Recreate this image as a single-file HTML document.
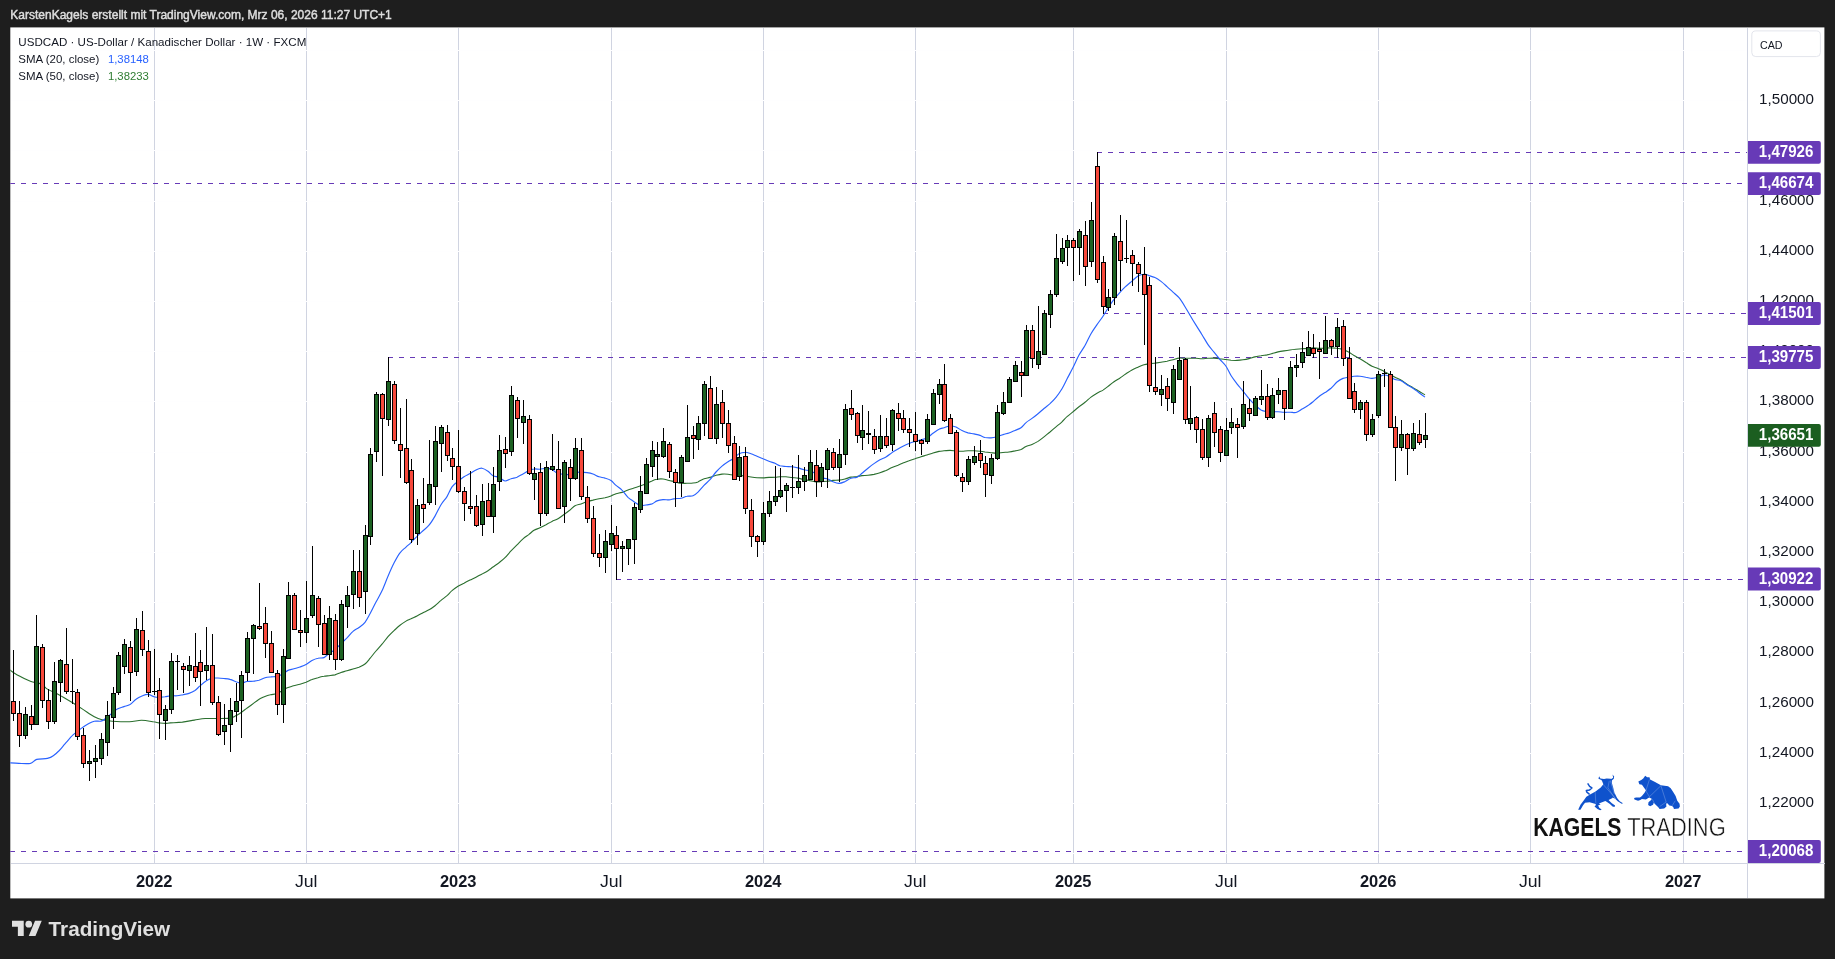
<!DOCTYPE html>
<html><head><meta charset="utf-8"><title>USDCAD</title>
<style>html,body{margin:0;padding:0;background:#1e1e1e;overflow:hidden}svg{display:block;will-change:transform}</style>
</head><body>
<svg width="1835" height="959" viewBox="0 0 1835 959" style="font-family:&quot;Liberation Sans&quot;,sans-serif">
<rect x="0" y="0" width="1835" height="959" fill="#1e1e1e"/>
<rect x="10.3" y="27.4" width="1814.1000000000001" height="871.0" fill="#ffffff"/>
<defs><clipPath id="pane"><rect x="10.3" y="27.4" width="1736.7" height="835.6"/></clipPath></defs>
<g shape-rendering="crispEdges">
<rect x="154" y="28" width="1" height="835" fill="#d0d4e1"/>
<rect x="306" y="28" width="1" height="835" fill="#d0d4e1"/>
<rect x="458" y="28" width="1" height="835" fill="#d0d4e1"/>
<rect x="611" y="28" width="1" height="835" fill="#d0d4e1"/>
<rect x="763" y="28" width="1" height="835" fill="#d0d4e1"/>
<rect x="915" y="28" width="1" height="835" fill="#d0d4e1"/>
<rect x="1073" y="28" width="1" height="835" fill="#d0d4e1"/>
<rect x="1226" y="28" width="1" height="835" fill="#d0d4e1"/>
<rect x="1378" y="28" width="1" height="835" fill="#d0d4e1"/>
<rect x="1530" y="28" width="1" height="835" fill="#d0d4e1"/>
<rect x="1683" y="28" width="1" height="835" fill="#d0d4e1"/>
<rect x="11" y="853" width="1736" height="1" fill="#fefeff"/>
<rect x="11" y="803" width="1736" height="1" fill="#fefeff"/>
<rect x="11" y="753" width="1736" height="1" fill="#fefeff"/>
<rect x="11" y="703" width="1736" height="1" fill="#fefeff"/>
<rect x="11" y="652" width="1736" height="1" fill="#fefeff"/>
<rect x="11" y="602" width="1736" height="1" fill="#fefeff"/>
<rect x="11" y="552" width="1736" height="1" fill="#fefeff"/>
<rect x="11" y="502" width="1736" height="1" fill="#fefeff"/>
<rect x="11" y="452" width="1736" height="1" fill="#fefeff"/>
<rect x="11" y="401" width="1736" height="1" fill="#fefeff"/>
<rect x="11" y="351" width="1736" height="1" fill="#fefeff"/>
<rect x="11" y="301" width="1736" height="1" fill="#fefeff"/>
<rect x="11" y="251" width="1736" height="1" fill="#fefeff"/>
<rect x="11" y="201" width="1736" height="1" fill="#fefeff"/>
<rect x="11" y="150" width="1736" height="1" fill="#fefeff"/>
<rect x="11" y="100" width="1736" height="1" fill="#fefeff"/>
<rect x="11" y="50" width="1736" height="1" fill="#fefeff"/>
<rect x="1747" y="28" width="1" height="870" fill="#d0d4e1"/>
<rect x="11" y="863" width="1814" height="1" fill="#d0d4e1"/>
</g>
<g shape-rendering="crispEdges" clip-path="url(#pane)">
<rect x="1097" y="152" width="5" height="1" fill="#673ab7"/><rect x="1108" y="152" width="5" height="1" fill="#673ab7"/><rect x="1119" y="152" width="5" height="1" fill="#673ab7"/><rect x="1130" y="152" width="5" height="1" fill="#673ab7"/><rect x="1141" y="152" width="5" height="1" fill="#673ab7"/><rect x="1152" y="152" width="5" height="1" fill="#673ab7"/><rect x="1163" y="152" width="5" height="1" fill="#673ab7"/><rect x="1174" y="152" width="5" height="1" fill="#673ab7"/><rect x="1185" y="152" width="5" height="1" fill="#673ab7"/><rect x="1196" y="152" width="5" height="1" fill="#673ab7"/><rect x="1207" y="152" width="5" height="1" fill="#673ab7"/><rect x="1218" y="152" width="5" height="1" fill="#673ab7"/><rect x="1229" y="152" width="5" height="1" fill="#673ab7"/><rect x="1240" y="152" width="5" height="1" fill="#673ab7"/><rect x="1251" y="152" width="5" height="1" fill="#673ab7"/><rect x="1262" y="152" width="5" height="1" fill="#673ab7"/><rect x="1273" y="152" width="5" height="1" fill="#673ab7"/><rect x="1284" y="152" width="5" height="1" fill="#673ab7"/><rect x="1295" y="152" width="5" height="1" fill="#673ab7"/><rect x="1306" y="152" width="5" height="1" fill="#673ab7"/><rect x="1317" y="152" width="5" height="1" fill="#673ab7"/><rect x="1328" y="152" width="5" height="1" fill="#673ab7"/><rect x="1339" y="152" width="5" height="1" fill="#673ab7"/><rect x="1350" y="152" width="5" height="1" fill="#673ab7"/><rect x="1361" y="152" width="5" height="1" fill="#673ab7"/><rect x="1372" y="152" width="5" height="1" fill="#673ab7"/><rect x="1383" y="152" width="5" height="1" fill="#673ab7"/><rect x="1394" y="152" width="5" height="1" fill="#673ab7"/><rect x="1405" y="152" width="5" height="1" fill="#673ab7"/><rect x="1416" y="152" width="5" height="1" fill="#673ab7"/><rect x="1427" y="152" width="5" height="1" fill="#673ab7"/><rect x="1438" y="152" width="5" height="1" fill="#673ab7"/><rect x="1449" y="152" width="5" height="1" fill="#673ab7"/><rect x="1460" y="152" width="5" height="1" fill="#673ab7"/><rect x="1471" y="152" width="5" height="1" fill="#673ab7"/><rect x="1482" y="152" width="5" height="1" fill="#673ab7"/><rect x="1493" y="152" width="5" height="1" fill="#673ab7"/><rect x="1504" y="152" width="5" height="1" fill="#673ab7"/><rect x="1515" y="152" width="5" height="1" fill="#673ab7"/><rect x="1526" y="152" width="5" height="1" fill="#673ab7"/><rect x="1537" y="152" width="5" height="1" fill="#673ab7"/><rect x="1548" y="152" width="5" height="1" fill="#673ab7"/><rect x="1559" y="152" width="5" height="1" fill="#673ab7"/><rect x="1570" y="152" width="5" height="1" fill="#673ab7"/><rect x="1581" y="152" width="5" height="1" fill="#673ab7"/><rect x="1592" y="152" width="5" height="1" fill="#673ab7"/><rect x="1603" y="152" width="5" height="1" fill="#673ab7"/><rect x="1614" y="152" width="5" height="1" fill="#673ab7"/><rect x="1625" y="152" width="5" height="1" fill="#673ab7"/><rect x="1636" y="152" width="5" height="1" fill="#673ab7"/><rect x="1647" y="152" width="5" height="1" fill="#673ab7"/><rect x="1658" y="152" width="5" height="1" fill="#673ab7"/><rect x="1669" y="152" width="5" height="1" fill="#673ab7"/><rect x="1680" y="152" width="5" height="1" fill="#673ab7"/><rect x="1691" y="152" width="5" height="1" fill="#673ab7"/><rect x="1702" y="152" width="5" height="1" fill="#673ab7"/><rect x="1713" y="152" width="5" height="1" fill="#673ab7"/><rect x="1724" y="152" width="5" height="1" fill="#673ab7"/><rect x="1735" y="152" width="5" height="1" fill="#673ab7"/><rect x="1746" y="152" width="1" height="1" fill="#673ab7"/>
<rect x="10" y="183" width="5" height="1" fill="#673ab7"/><rect x="21" y="183" width="5" height="1" fill="#673ab7"/><rect x="32" y="183" width="5" height="1" fill="#673ab7"/><rect x="43" y="183" width="5" height="1" fill="#673ab7"/><rect x="54" y="183" width="5" height="1" fill="#673ab7"/><rect x="65" y="183" width="5" height="1" fill="#673ab7"/><rect x="76" y="183" width="5" height="1" fill="#673ab7"/><rect x="87" y="183" width="5" height="1" fill="#673ab7"/><rect x="98" y="183" width="5" height="1" fill="#673ab7"/><rect x="109" y="183" width="5" height="1" fill="#673ab7"/><rect x="120" y="183" width="5" height="1" fill="#673ab7"/><rect x="131" y="183" width="5" height="1" fill="#673ab7"/><rect x="142" y="183" width="5" height="1" fill="#673ab7"/><rect x="153" y="183" width="5" height="1" fill="#673ab7"/><rect x="164" y="183" width="5" height="1" fill="#673ab7"/><rect x="175" y="183" width="5" height="1" fill="#673ab7"/><rect x="186" y="183" width="5" height="1" fill="#673ab7"/><rect x="197" y="183" width="5" height="1" fill="#673ab7"/><rect x="208" y="183" width="5" height="1" fill="#673ab7"/><rect x="219" y="183" width="5" height="1" fill="#673ab7"/><rect x="230" y="183" width="5" height="1" fill="#673ab7"/><rect x="241" y="183" width="5" height="1" fill="#673ab7"/><rect x="252" y="183" width="5" height="1" fill="#673ab7"/><rect x="263" y="183" width="5" height="1" fill="#673ab7"/><rect x="274" y="183" width="5" height="1" fill="#673ab7"/><rect x="285" y="183" width="5" height="1" fill="#673ab7"/><rect x="296" y="183" width="5" height="1" fill="#673ab7"/><rect x="307" y="183" width="5" height="1" fill="#673ab7"/><rect x="318" y="183" width="5" height="1" fill="#673ab7"/><rect x="329" y="183" width="5" height="1" fill="#673ab7"/><rect x="340" y="183" width="5" height="1" fill="#673ab7"/><rect x="351" y="183" width="5" height="1" fill="#673ab7"/><rect x="362" y="183" width="5" height="1" fill="#673ab7"/><rect x="373" y="183" width="5" height="1" fill="#673ab7"/><rect x="384" y="183" width="5" height="1" fill="#673ab7"/><rect x="395" y="183" width="5" height="1" fill="#673ab7"/><rect x="406" y="183" width="5" height="1" fill="#673ab7"/><rect x="417" y="183" width="5" height="1" fill="#673ab7"/><rect x="428" y="183" width="5" height="1" fill="#673ab7"/><rect x="439" y="183" width="5" height="1" fill="#673ab7"/><rect x="450" y="183" width="5" height="1" fill="#673ab7"/><rect x="461" y="183" width="5" height="1" fill="#673ab7"/><rect x="472" y="183" width="5" height="1" fill="#673ab7"/><rect x="483" y="183" width="5" height="1" fill="#673ab7"/><rect x="494" y="183" width="5" height="1" fill="#673ab7"/><rect x="505" y="183" width="5" height="1" fill="#673ab7"/><rect x="516" y="183" width="5" height="1" fill="#673ab7"/><rect x="527" y="183" width="5" height="1" fill="#673ab7"/><rect x="538" y="183" width="5" height="1" fill="#673ab7"/><rect x="549" y="183" width="5" height="1" fill="#673ab7"/><rect x="560" y="183" width="5" height="1" fill="#673ab7"/><rect x="571" y="183" width="5" height="1" fill="#673ab7"/><rect x="582" y="183" width="5" height="1" fill="#673ab7"/><rect x="593" y="183" width="5" height="1" fill="#673ab7"/><rect x="604" y="183" width="5" height="1" fill="#673ab7"/><rect x="615" y="183" width="5" height="1" fill="#673ab7"/><rect x="626" y="183" width="5" height="1" fill="#673ab7"/><rect x="637" y="183" width="5" height="1" fill="#673ab7"/><rect x="648" y="183" width="5" height="1" fill="#673ab7"/><rect x="659" y="183" width="5" height="1" fill="#673ab7"/><rect x="670" y="183" width="5" height="1" fill="#673ab7"/><rect x="681" y="183" width="5" height="1" fill="#673ab7"/><rect x="692" y="183" width="5" height="1" fill="#673ab7"/><rect x="703" y="183" width="5" height="1" fill="#673ab7"/><rect x="714" y="183" width="5" height="1" fill="#673ab7"/><rect x="725" y="183" width="5" height="1" fill="#673ab7"/><rect x="736" y="183" width="5" height="1" fill="#673ab7"/><rect x="747" y="183" width="5" height="1" fill="#673ab7"/><rect x="758" y="183" width="5" height="1" fill="#673ab7"/><rect x="769" y="183" width="5" height="1" fill="#673ab7"/><rect x="780" y="183" width="5" height="1" fill="#673ab7"/><rect x="791" y="183" width="5" height="1" fill="#673ab7"/><rect x="802" y="183" width="5" height="1" fill="#673ab7"/><rect x="813" y="183" width="5" height="1" fill="#673ab7"/><rect x="824" y="183" width="5" height="1" fill="#673ab7"/><rect x="835" y="183" width="5" height="1" fill="#673ab7"/><rect x="846" y="183" width="5" height="1" fill="#673ab7"/><rect x="857" y="183" width="5" height="1" fill="#673ab7"/><rect x="868" y="183" width="5" height="1" fill="#673ab7"/><rect x="879" y="183" width="5" height="1" fill="#673ab7"/><rect x="890" y="183" width="5" height="1" fill="#673ab7"/><rect x="901" y="183" width="5" height="1" fill="#673ab7"/><rect x="912" y="183" width="5" height="1" fill="#673ab7"/><rect x="923" y="183" width="5" height="1" fill="#673ab7"/><rect x="934" y="183" width="5" height="1" fill="#673ab7"/><rect x="945" y="183" width="5" height="1" fill="#673ab7"/><rect x="956" y="183" width="5" height="1" fill="#673ab7"/><rect x="967" y="183" width="5" height="1" fill="#673ab7"/><rect x="978" y="183" width="5" height="1" fill="#673ab7"/><rect x="989" y="183" width="5" height="1" fill="#673ab7"/><rect x="1000" y="183" width="5" height="1" fill="#673ab7"/><rect x="1011" y="183" width="5" height="1" fill="#673ab7"/><rect x="1022" y="183" width="5" height="1" fill="#673ab7"/><rect x="1033" y="183" width="5" height="1" fill="#673ab7"/><rect x="1044" y="183" width="5" height="1" fill="#673ab7"/><rect x="1055" y="183" width="5" height="1" fill="#673ab7"/><rect x="1066" y="183" width="5" height="1" fill="#673ab7"/><rect x="1077" y="183" width="5" height="1" fill="#673ab7"/><rect x="1088" y="183" width="5" height="1" fill="#673ab7"/><rect x="1099" y="183" width="5" height="1" fill="#673ab7"/><rect x="1110" y="183" width="5" height="1" fill="#673ab7"/><rect x="1121" y="183" width="5" height="1" fill="#673ab7"/><rect x="1132" y="183" width="5" height="1" fill="#673ab7"/><rect x="1143" y="183" width="5" height="1" fill="#673ab7"/><rect x="1154" y="183" width="5" height="1" fill="#673ab7"/><rect x="1165" y="183" width="5" height="1" fill="#673ab7"/><rect x="1176" y="183" width="5" height="1" fill="#673ab7"/><rect x="1187" y="183" width="5" height="1" fill="#673ab7"/><rect x="1198" y="183" width="5" height="1" fill="#673ab7"/><rect x="1209" y="183" width="5" height="1" fill="#673ab7"/><rect x="1220" y="183" width="5" height="1" fill="#673ab7"/><rect x="1231" y="183" width="5" height="1" fill="#673ab7"/><rect x="1242" y="183" width="5" height="1" fill="#673ab7"/><rect x="1253" y="183" width="5" height="1" fill="#673ab7"/><rect x="1264" y="183" width="5" height="1" fill="#673ab7"/><rect x="1275" y="183" width="5" height="1" fill="#673ab7"/><rect x="1286" y="183" width="5" height="1" fill="#673ab7"/><rect x="1297" y="183" width="5" height="1" fill="#673ab7"/><rect x="1308" y="183" width="5" height="1" fill="#673ab7"/><rect x="1319" y="183" width="5" height="1" fill="#673ab7"/><rect x="1330" y="183" width="5" height="1" fill="#673ab7"/><rect x="1341" y="183" width="5" height="1" fill="#673ab7"/><rect x="1352" y="183" width="5" height="1" fill="#673ab7"/><rect x="1363" y="183" width="5" height="1" fill="#673ab7"/><rect x="1374" y="183" width="5" height="1" fill="#673ab7"/><rect x="1385" y="183" width="5" height="1" fill="#673ab7"/><rect x="1396" y="183" width="5" height="1" fill="#673ab7"/><rect x="1407" y="183" width="5" height="1" fill="#673ab7"/><rect x="1418" y="183" width="5" height="1" fill="#673ab7"/><rect x="1429" y="183" width="5" height="1" fill="#673ab7"/><rect x="1440" y="183" width="5" height="1" fill="#673ab7"/><rect x="1451" y="183" width="5" height="1" fill="#673ab7"/><rect x="1462" y="183" width="5" height="1" fill="#673ab7"/><rect x="1473" y="183" width="5" height="1" fill="#673ab7"/><rect x="1484" y="183" width="5" height="1" fill="#673ab7"/><rect x="1495" y="183" width="5" height="1" fill="#673ab7"/><rect x="1506" y="183" width="5" height="1" fill="#673ab7"/><rect x="1517" y="183" width="5" height="1" fill="#673ab7"/><rect x="1528" y="183" width="5" height="1" fill="#673ab7"/><rect x="1539" y="183" width="5" height="1" fill="#673ab7"/><rect x="1550" y="183" width="5" height="1" fill="#673ab7"/><rect x="1561" y="183" width="5" height="1" fill="#673ab7"/><rect x="1572" y="183" width="5" height="1" fill="#673ab7"/><rect x="1583" y="183" width="5" height="1" fill="#673ab7"/><rect x="1594" y="183" width="5" height="1" fill="#673ab7"/><rect x="1605" y="183" width="5" height="1" fill="#673ab7"/><rect x="1616" y="183" width="5" height="1" fill="#673ab7"/><rect x="1627" y="183" width="5" height="1" fill="#673ab7"/><rect x="1638" y="183" width="5" height="1" fill="#673ab7"/><rect x="1649" y="183" width="5" height="1" fill="#673ab7"/><rect x="1660" y="183" width="5" height="1" fill="#673ab7"/><rect x="1671" y="183" width="5" height="1" fill="#673ab7"/><rect x="1682" y="183" width="5" height="1" fill="#673ab7"/><rect x="1693" y="183" width="5" height="1" fill="#673ab7"/><rect x="1704" y="183" width="5" height="1" fill="#673ab7"/><rect x="1715" y="183" width="5" height="1" fill="#673ab7"/><rect x="1726" y="183" width="5" height="1" fill="#673ab7"/><rect x="1737" y="183" width="5" height="1" fill="#673ab7"/>
<rect x="1103" y="313" width="5" height="1" fill="#673ab7"/><rect x="1114" y="313" width="5" height="1" fill="#673ab7"/><rect x="1125" y="313" width="5" height="1" fill="#673ab7"/><rect x="1136" y="313" width="5" height="1" fill="#673ab7"/><rect x="1147" y="313" width="5" height="1" fill="#673ab7"/><rect x="1158" y="313" width="5" height="1" fill="#673ab7"/><rect x="1169" y="313" width="5" height="1" fill="#673ab7"/><rect x="1180" y="313" width="5" height="1" fill="#673ab7"/><rect x="1191" y="313" width="5" height="1" fill="#673ab7"/><rect x="1202" y="313" width="5" height="1" fill="#673ab7"/><rect x="1213" y="313" width="5" height="1" fill="#673ab7"/><rect x="1224" y="313" width="5" height="1" fill="#673ab7"/><rect x="1235" y="313" width="5" height="1" fill="#673ab7"/><rect x="1246" y="313" width="5" height="1" fill="#673ab7"/><rect x="1257" y="313" width="5" height="1" fill="#673ab7"/><rect x="1268" y="313" width="5" height="1" fill="#673ab7"/><rect x="1279" y="313" width="5" height="1" fill="#673ab7"/><rect x="1290" y="313" width="5" height="1" fill="#673ab7"/><rect x="1301" y="313" width="5" height="1" fill="#673ab7"/><rect x="1312" y="313" width="5" height="1" fill="#673ab7"/><rect x="1323" y="313" width="5" height="1" fill="#673ab7"/><rect x="1334" y="313" width="5" height="1" fill="#673ab7"/><rect x="1345" y="313" width="5" height="1" fill="#673ab7"/><rect x="1356" y="313" width="5" height="1" fill="#673ab7"/><rect x="1367" y="313" width="5" height="1" fill="#673ab7"/><rect x="1378" y="313" width="5" height="1" fill="#673ab7"/><rect x="1389" y="313" width="5" height="1" fill="#673ab7"/><rect x="1400" y="313" width="5" height="1" fill="#673ab7"/><rect x="1411" y="313" width="5" height="1" fill="#673ab7"/><rect x="1422" y="313" width="5" height="1" fill="#673ab7"/><rect x="1433" y="313" width="5" height="1" fill="#673ab7"/><rect x="1444" y="313" width="5" height="1" fill="#673ab7"/><rect x="1455" y="313" width="5" height="1" fill="#673ab7"/><rect x="1466" y="313" width="5" height="1" fill="#673ab7"/><rect x="1477" y="313" width="5" height="1" fill="#673ab7"/><rect x="1488" y="313" width="5" height="1" fill="#673ab7"/><rect x="1499" y="313" width="5" height="1" fill="#673ab7"/><rect x="1510" y="313" width="5" height="1" fill="#673ab7"/><rect x="1521" y="313" width="5" height="1" fill="#673ab7"/><rect x="1532" y="313" width="5" height="1" fill="#673ab7"/><rect x="1543" y="313" width="5" height="1" fill="#673ab7"/><rect x="1554" y="313" width="5" height="1" fill="#673ab7"/><rect x="1565" y="313" width="5" height="1" fill="#673ab7"/><rect x="1576" y="313" width="5" height="1" fill="#673ab7"/><rect x="1587" y="313" width="5" height="1" fill="#673ab7"/><rect x="1598" y="313" width="5" height="1" fill="#673ab7"/><rect x="1609" y="313" width="5" height="1" fill="#673ab7"/><rect x="1620" y="313" width="5" height="1" fill="#673ab7"/><rect x="1631" y="313" width="5" height="1" fill="#673ab7"/><rect x="1642" y="313" width="5" height="1" fill="#673ab7"/><rect x="1653" y="313" width="5" height="1" fill="#673ab7"/><rect x="1664" y="313" width="5" height="1" fill="#673ab7"/><rect x="1675" y="313" width="5" height="1" fill="#673ab7"/><rect x="1686" y="313" width="5" height="1" fill="#673ab7"/><rect x="1697" y="313" width="5" height="1" fill="#673ab7"/><rect x="1708" y="313" width="5" height="1" fill="#673ab7"/><rect x="1719" y="313" width="5" height="1" fill="#673ab7"/><rect x="1730" y="313" width="5" height="1" fill="#673ab7"/><rect x="1741" y="313" width="5" height="1" fill="#673ab7"/>
<rect x="388" y="357" width="5" height="1" fill="#673ab7"/><rect x="399" y="357" width="5" height="1" fill="#673ab7"/><rect x="410" y="357" width="5" height="1" fill="#673ab7"/><rect x="421" y="357" width="5" height="1" fill="#673ab7"/><rect x="432" y="357" width="5" height="1" fill="#673ab7"/><rect x="443" y="357" width="5" height="1" fill="#673ab7"/><rect x="454" y="357" width="5" height="1" fill="#673ab7"/><rect x="465" y="357" width="5" height="1" fill="#673ab7"/><rect x="476" y="357" width="5" height="1" fill="#673ab7"/><rect x="487" y="357" width="5" height="1" fill="#673ab7"/><rect x="498" y="357" width="5" height="1" fill="#673ab7"/><rect x="509" y="357" width="5" height="1" fill="#673ab7"/><rect x="520" y="357" width="5" height="1" fill="#673ab7"/><rect x="531" y="357" width="5" height="1" fill="#673ab7"/><rect x="542" y="357" width="5" height="1" fill="#673ab7"/><rect x="553" y="357" width="5" height="1" fill="#673ab7"/><rect x="564" y="357" width="5" height="1" fill="#673ab7"/><rect x="575" y="357" width="5" height="1" fill="#673ab7"/><rect x="586" y="357" width="5" height="1" fill="#673ab7"/><rect x="597" y="357" width="5" height="1" fill="#673ab7"/><rect x="608" y="357" width="5" height="1" fill="#673ab7"/><rect x="619" y="357" width="5" height="1" fill="#673ab7"/><rect x="630" y="357" width="5" height="1" fill="#673ab7"/><rect x="641" y="357" width="5" height="1" fill="#673ab7"/><rect x="652" y="357" width="5" height="1" fill="#673ab7"/><rect x="663" y="357" width="5" height="1" fill="#673ab7"/><rect x="674" y="357" width="5" height="1" fill="#673ab7"/><rect x="685" y="357" width="5" height="1" fill="#673ab7"/><rect x="696" y="357" width="5" height="1" fill="#673ab7"/><rect x="707" y="357" width="5" height="1" fill="#673ab7"/><rect x="718" y="357" width="5" height="1" fill="#673ab7"/><rect x="729" y="357" width="5" height="1" fill="#673ab7"/><rect x="740" y="357" width="5" height="1" fill="#673ab7"/><rect x="751" y="357" width="5" height="1" fill="#673ab7"/><rect x="762" y="357" width="5" height="1" fill="#673ab7"/><rect x="773" y="357" width="5" height="1" fill="#673ab7"/><rect x="784" y="357" width="5" height="1" fill="#673ab7"/><rect x="795" y="357" width="5" height="1" fill="#673ab7"/><rect x="806" y="357" width="5" height="1" fill="#673ab7"/><rect x="817" y="357" width="5" height="1" fill="#673ab7"/><rect x="828" y="357" width="5" height="1" fill="#673ab7"/><rect x="839" y="357" width="5" height="1" fill="#673ab7"/><rect x="850" y="357" width="5" height="1" fill="#673ab7"/><rect x="861" y="357" width="5" height="1" fill="#673ab7"/><rect x="872" y="357" width="5" height="1" fill="#673ab7"/><rect x="883" y="357" width="5" height="1" fill="#673ab7"/><rect x="894" y="357" width="5" height="1" fill="#673ab7"/><rect x="905" y="357" width="5" height="1" fill="#673ab7"/><rect x="916" y="357" width="5" height="1" fill="#673ab7"/><rect x="927" y="357" width="5" height="1" fill="#673ab7"/><rect x="938" y="357" width="5" height="1" fill="#673ab7"/><rect x="949" y="357" width="5" height="1" fill="#673ab7"/><rect x="960" y="357" width="5" height="1" fill="#673ab7"/><rect x="971" y="357" width="5" height="1" fill="#673ab7"/><rect x="982" y="357" width="5" height="1" fill="#673ab7"/><rect x="993" y="357" width="5" height="1" fill="#673ab7"/><rect x="1004" y="357" width="5" height="1" fill="#673ab7"/><rect x="1015" y="357" width="5" height="1" fill="#673ab7"/><rect x="1026" y="357" width="5" height="1" fill="#673ab7"/><rect x="1037" y="357" width="5" height="1" fill="#673ab7"/><rect x="1048" y="357" width="5" height="1" fill="#673ab7"/><rect x="1059" y="357" width="5" height="1" fill="#673ab7"/><rect x="1070" y="357" width="5" height="1" fill="#673ab7"/><rect x="1081" y="357" width="5" height="1" fill="#673ab7"/><rect x="1092" y="357" width="5" height="1" fill="#673ab7"/><rect x="1103" y="357" width="5" height="1" fill="#673ab7"/><rect x="1114" y="357" width="5" height="1" fill="#673ab7"/><rect x="1125" y="357" width="5" height="1" fill="#673ab7"/><rect x="1136" y="357" width="5" height="1" fill="#673ab7"/><rect x="1147" y="357" width="5" height="1" fill="#673ab7"/><rect x="1158" y="357" width="5" height="1" fill="#673ab7"/><rect x="1169" y="357" width="5" height="1" fill="#673ab7"/><rect x="1180" y="357" width="5" height="1" fill="#673ab7"/><rect x="1191" y="357" width="5" height="1" fill="#673ab7"/><rect x="1202" y="357" width="5" height="1" fill="#673ab7"/><rect x="1213" y="357" width="5" height="1" fill="#673ab7"/><rect x="1224" y="357" width="5" height="1" fill="#673ab7"/><rect x="1235" y="357" width="5" height="1" fill="#673ab7"/><rect x="1246" y="357" width="5" height="1" fill="#673ab7"/><rect x="1257" y="357" width="5" height="1" fill="#673ab7"/><rect x="1268" y="357" width="5" height="1" fill="#673ab7"/><rect x="1279" y="357" width="5" height="1" fill="#673ab7"/><rect x="1290" y="357" width="5" height="1" fill="#673ab7"/><rect x="1301" y="357" width="5" height="1" fill="#673ab7"/><rect x="1312" y="357" width="5" height="1" fill="#673ab7"/><rect x="1323" y="357" width="5" height="1" fill="#673ab7"/><rect x="1334" y="357" width="5" height="1" fill="#673ab7"/><rect x="1345" y="357" width="5" height="1" fill="#673ab7"/><rect x="1356" y="357" width="5" height="1" fill="#673ab7"/><rect x="1367" y="357" width="5" height="1" fill="#673ab7"/><rect x="1378" y="357" width="5" height="1" fill="#673ab7"/><rect x="1389" y="357" width="5" height="1" fill="#673ab7"/><rect x="1400" y="357" width="5" height="1" fill="#673ab7"/><rect x="1411" y="357" width="5" height="1" fill="#673ab7"/><rect x="1422" y="357" width="5" height="1" fill="#673ab7"/><rect x="1433" y="357" width="5" height="1" fill="#673ab7"/><rect x="1444" y="357" width="5" height="1" fill="#673ab7"/><rect x="1455" y="357" width="5" height="1" fill="#673ab7"/><rect x="1466" y="357" width="5" height="1" fill="#673ab7"/><rect x="1477" y="357" width="5" height="1" fill="#673ab7"/><rect x="1488" y="357" width="5" height="1" fill="#673ab7"/><rect x="1499" y="357" width="5" height="1" fill="#673ab7"/><rect x="1510" y="357" width="5" height="1" fill="#673ab7"/><rect x="1521" y="357" width="5" height="1" fill="#673ab7"/><rect x="1532" y="357" width="5" height="1" fill="#673ab7"/><rect x="1543" y="357" width="5" height="1" fill="#673ab7"/><rect x="1554" y="357" width="5" height="1" fill="#673ab7"/><rect x="1565" y="357" width="5" height="1" fill="#673ab7"/><rect x="1576" y="357" width="5" height="1" fill="#673ab7"/><rect x="1587" y="357" width="5" height="1" fill="#673ab7"/><rect x="1598" y="357" width="5" height="1" fill="#673ab7"/><rect x="1609" y="357" width="5" height="1" fill="#673ab7"/><rect x="1620" y="357" width="5" height="1" fill="#673ab7"/><rect x="1631" y="357" width="5" height="1" fill="#673ab7"/><rect x="1642" y="357" width="5" height="1" fill="#673ab7"/><rect x="1653" y="357" width="5" height="1" fill="#673ab7"/><rect x="1664" y="357" width="5" height="1" fill="#673ab7"/><rect x="1675" y="357" width="5" height="1" fill="#673ab7"/><rect x="1686" y="357" width="5" height="1" fill="#673ab7"/><rect x="1697" y="357" width="5" height="1" fill="#673ab7"/><rect x="1708" y="357" width="5" height="1" fill="#673ab7"/><rect x="1719" y="357" width="5" height="1" fill="#673ab7"/><rect x="1730" y="357" width="5" height="1" fill="#673ab7"/><rect x="1741" y="357" width="5" height="1" fill="#673ab7"/>
<rect x="616" y="579" width="5" height="1" fill="#673ab7"/><rect x="627" y="579" width="5" height="1" fill="#673ab7"/><rect x="638" y="579" width="5" height="1" fill="#673ab7"/><rect x="649" y="579" width="5" height="1" fill="#673ab7"/><rect x="660" y="579" width="5" height="1" fill="#673ab7"/><rect x="671" y="579" width="5" height="1" fill="#673ab7"/><rect x="682" y="579" width="5" height="1" fill="#673ab7"/><rect x="693" y="579" width="5" height="1" fill="#673ab7"/><rect x="704" y="579" width="5" height="1" fill="#673ab7"/><rect x="715" y="579" width="5" height="1" fill="#673ab7"/><rect x="726" y="579" width="5" height="1" fill="#673ab7"/><rect x="737" y="579" width="5" height="1" fill="#673ab7"/><rect x="748" y="579" width="5" height="1" fill="#673ab7"/><rect x="759" y="579" width="5" height="1" fill="#673ab7"/><rect x="770" y="579" width="5" height="1" fill="#673ab7"/><rect x="781" y="579" width="5" height="1" fill="#673ab7"/><rect x="792" y="579" width="5" height="1" fill="#673ab7"/><rect x="803" y="579" width="5" height="1" fill="#673ab7"/><rect x="814" y="579" width="5" height="1" fill="#673ab7"/><rect x="825" y="579" width="5" height="1" fill="#673ab7"/><rect x="836" y="579" width="5" height="1" fill="#673ab7"/><rect x="847" y="579" width="5" height="1" fill="#673ab7"/><rect x="858" y="579" width="5" height="1" fill="#673ab7"/><rect x="869" y="579" width="5" height="1" fill="#673ab7"/><rect x="880" y="579" width="5" height="1" fill="#673ab7"/><rect x="891" y="579" width="5" height="1" fill="#673ab7"/><rect x="902" y="579" width="5" height="1" fill="#673ab7"/><rect x="913" y="579" width="5" height="1" fill="#673ab7"/><rect x="924" y="579" width="5" height="1" fill="#673ab7"/><rect x="935" y="579" width="5" height="1" fill="#673ab7"/><rect x="946" y="579" width="5" height="1" fill="#673ab7"/><rect x="957" y="579" width="5" height="1" fill="#673ab7"/><rect x="968" y="579" width="5" height="1" fill="#673ab7"/><rect x="979" y="579" width="5" height="1" fill="#673ab7"/><rect x="990" y="579" width="5" height="1" fill="#673ab7"/><rect x="1001" y="579" width="5" height="1" fill="#673ab7"/><rect x="1012" y="579" width="5" height="1" fill="#673ab7"/><rect x="1023" y="579" width="5" height="1" fill="#673ab7"/><rect x="1034" y="579" width="5" height="1" fill="#673ab7"/><rect x="1045" y="579" width="5" height="1" fill="#673ab7"/><rect x="1056" y="579" width="5" height="1" fill="#673ab7"/><rect x="1067" y="579" width="5" height="1" fill="#673ab7"/><rect x="1078" y="579" width="5" height="1" fill="#673ab7"/><rect x="1089" y="579" width="5" height="1" fill="#673ab7"/><rect x="1100" y="579" width="5" height="1" fill="#673ab7"/><rect x="1111" y="579" width="5" height="1" fill="#673ab7"/><rect x="1122" y="579" width="5" height="1" fill="#673ab7"/><rect x="1133" y="579" width="5" height="1" fill="#673ab7"/><rect x="1144" y="579" width="5" height="1" fill="#673ab7"/><rect x="1155" y="579" width="5" height="1" fill="#673ab7"/><rect x="1166" y="579" width="5" height="1" fill="#673ab7"/><rect x="1177" y="579" width="5" height="1" fill="#673ab7"/><rect x="1188" y="579" width="5" height="1" fill="#673ab7"/><rect x="1199" y="579" width="5" height="1" fill="#673ab7"/><rect x="1210" y="579" width="5" height="1" fill="#673ab7"/><rect x="1221" y="579" width="5" height="1" fill="#673ab7"/><rect x="1232" y="579" width="5" height="1" fill="#673ab7"/><rect x="1243" y="579" width="5" height="1" fill="#673ab7"/><rect x="1254" y="579" width="5" height="1" fill="#673ab7"/><rect x="1265" y="579" width="5" height="1" fill="#673ab7"/><rect x="1276" y="579" width="5" height="1" fill="#673ab7"/><rect x="1287" y="579" width="5" height="1" fill="#673ab7"/><rect x="1298" y="579" width="5" height="1" fill="#673ab7"/><rect x="1309" y="579" width="5" height="1" fill="#673ab7"/><rect x="1320" y="579" width="5" height="1" fill="#673ab7"/><rect x="1331" y="579" width="5" height="1" fill="#673ab7"/><rect x="1342" y="579" width="5" height="1" fill="#673ab7"/><rect x="1353" y="579" width="5" height="1" fill="#673ab7"/><rect x="1364" y="579" width="5" height="1" fill="#673ab7"/><rect x="1375" y="579" width="5" height="1" fill="#673ab7"/><rect x="1386" y="579" width="5" height="1" fill="#673ab7"/><rect x="1397" y="579" width="5" height="1" fill="#673ab7"/><rect x="1408" y="579" width="5" height="1" fill="#673ab7"/><rect x="1419" y="579" width="5" height="1" fill="#673ab7"/><rect x="1430" y="579" width="5" height="1" fill="#673ab7"/><rect x="1441" y="579" width="5" height="1" fill="#673ab7"/><rect x="1452" y="579" width="5" height="1" fill="#673ab7"/><rect x="1463" y="579" width="5" height="1" fill="#673ab7"/><rect x="1474" y="579" width="5" height="1" fill="#673ab7"/><rect x="1485" y="579" width="5" height="1" fill="#673ab7"/><rect x="1496" y="579" width="5" height="1" fill="#673ab7"/><rect x="1507" y="579" width="5" height="1" fill="#673ab7"/><rect x="1518" y="579" width="5" height="1" fill="#673ab7"/><rect x="1529" y="579" width="5" height="1" fill="#673ab7"/><rect x="1540" y="579" width="5" height="1" fill="#673ab7"/><rect x="1551" y="579" width="5" height="1" fill="#673ab7"/><rect x="1562" y="579" width="5" height="1" fill="#673ab7"/><rect x="1573" y="579" width="5" height="1" fill="#673ab7"/><rect x="1584" y="579" width="5" height="1" fill="#673ab7"/><rect x="1595" y="579" width="5" height="1" fill="#673ab7"/><rect x="1606" y="579" width="5" height="1" fill="#673ab7"/><rect x="1617" y="579" width="5" height="1" fill="#673ab7"/><rect x="1628" y="579" width="5" height="1" fill="#673ab7"/><rect x="1639" y="579" width="5" height="1" fill="#673ab7"/><rect x="1650" y="579" width="5" height="1" fill="#673ab7"/><rect x="1661" y="579" width="5" height="1" fill="#673ab7"/><rect x="1672" y="579" width="5" height="1" fill="#673ab7"/><rect x="1683" y="579" width="5" height="1" fill="#673ab7"/><rect x="1694" y="579" width="5" height="1" fill="#673ab7"/><rect x="1705" y="579" width="5" height="1" fill="#673ab7"/><rect x="1716" y="579" width="5" height="1" fill="#673ab7"/><rect x="1727" y="579" width="5" height="1" fill="#673ab7"/><rect x="1738" y="579" width="5" height="1" fill="#673ab7"/>
<rect x="10" y="851" width="5" height="1" fill="#673ab7"/><rect x="21" y="851" width="5" height="1" fill="#673ab7"/><rect x="32" y="851" width="5" height="1" fill="#673ab7"/><rect x="43" y="851" width="5" height="1" fill="#673ab7"/><rect x="54" y="851" width="5" height="1" fill="#673ab7"/><rect x="65" y="851" width="5" height="1" fill="#673ab7"/><rect x="76" y="851" width="5" height="1" fill="#673ab7"/><rect x="87" y="851" width="5" height="1" fill="#673ab7"/><rect x="98" y="851" width="5" height="1" fill="#673ab7"/><rect x="109" y="851" width="5" height="1" fill="#673ab7"/><rect x="120" y="851" width="5" height="1" fill="#673ab7"/><rect x="131" y="851" width="5" height="1" fill="#673ab7"/><rect x="142" y="851" width="5" height="1" fill="#673ab7"/><rect x="153" y="851" width="5" height="1" fill="#673ab7"/><rect x="164" y="851" width="5" height="1" fill="#673ab7"/><rect x="175" y="851" width="5" height="1" fill="#673ab7"/><rect x="186" y="851" width="5" height="1" fill="#673ab7"/><rect x="197" y="851" width="5" height="1" fill="#673ab7"/><rect x="208" y="851" width="5" height="1" fill="#673ab7"/><rect x="219" y="851" width="5" height="1" fill="#673ab7"/><rect x="230" y="851" width="5" height="1" fill="#673ab7"/><rect x="241" y="851" width="5" height="1" fill="#673ab7"/><rect x="252" y="851" width="5" height="1" fill="#673ab7"/><rect x="263" y="851" width="5" height="1" fill="#673ab7"/><rect x="274" y="851" width="5" height="1" fill="#673ab7"/><rect x="285" y="851" width="5" height="1" fill="#673ab7"/><rect x="296" y="851" width="5" height="1" fill="#673ab7"/><rect x="307" y="851" width="5" height="1" fill="#673ab7"/><rect x="318" y="851" width="5" height="1" fill="#673ab7"/><rect x="329" y="851" width="5" height="1" fill="#673ab7"/><rect x="340" y="851" width="5" height="1" fill="#673ab7"/><rect x="351" y="851" width="5" height="1" fill="#673ab7"/><rect x="362" y="851" width="5" height="1" fill="#673ab7"/><rect x="373" y="851" width="5" height="1" fill="#673ab7"/><rect x="384" y="851" width="5" height="1" fill="#673ab7"/><rect x="395" y="851" width="5" height="1" fill="#673ab7"/><rect x="406" y="851" width="5" height="1" fill="#673ab7"/><rect x="417" y="851" width="5" height="1" fill="#673ab7"/><rect x="428" y="851" width="5" height="1" fill="#673ab7"/><rect x="439" y="851" width="5" height="1" fill="#673ab7"/><rect x="450" y="851" width="5" height="1" fill="#673ab7"/><rect x="461" y="851" width="5" height="1" fill="#673ab7"/><rect x="472" y="851" width="5" height="1" fill="#673ab7"/><rect x="483" y="851" width="5" height="1" fill="#673ab7"/><rect x="494" y="851" width="5" height="1" fill="#673ab7"/><rect x="505" y="851" width="5" height="1" fill="#673ab7"/><rect x="516" y="851" width="5" height="1" fill="#673ab7"/><rect x="527" y="851" width="5" height="1" fill="#673ab7"/><rect x="538" y="851" width="5" height="1" fill="#673ab7"/><rect x="549" y="851" width="5" height="1" fill="#673ab7"/><rect x="560" y="851" width="5" height="1" fill="#673ab7"/><rect x="571" y="851" width="5" height="1" fill="#673ab7"/><rect x="582" y="851" width="5" height="1" fill="#673ab7"/><rect x="593" y="851" width="5" height="1" fill="#673ab7"/><rect x="604" y="851" width="5" height="1" fill="#673ab7"/><rect x="615" y="851" width="5" height="1" fill="#673ab7"/><rect x="626" y="851" width="5" height="1" fill="#673ab7"/><rect x="637" y="851" width="5" height="1" fill="#673ab7"/><rect x="648" y="851" width="5" height="1" fill="#673ab7"/><rect x="659" y="851" width="5" height="1" fill="#673ab7"/><rect x="670" y="851" width="5" height="1" fill="#673ab7"/><rect x="681" y="851" width="5" height="1" fill="#673ab7"/><rect x="692" y="851" width="5" height="1" fill="#673ab7"/><rect x="703" y="851" width="5" height="1" fill="#673ab7"/><rect x="714" y="851" width="5" height="1" fill="#673ab7"/><rect x="725" y="851" width="5" height="1" fill="#673ab7"/><rect x="736" y="851" width="5" height="1" fill="#673ab7"/><rect x="747" y="851" width="5" height="1" fill="#673ab7"/><rect x="758" y="851" width="5" height="1" fill="#673ab7"/><rect x="769" y="851" width="5" height="1" fill="#673ab7"/><rect x="780" y="851" width="5" height="1" fill="#673ab7"/><rect x="791" y="851" width="5" height="1" fill="#673ab7"/><rect x="802" y="851" width="5" height="1" fill="#673ab7"/><rect x="813" y="851" width="5" height="1" fill="#673ab7"/><rect x="824" y="851" width="5" height="1" fill="#673ab7"/><rect x="835" y="851" width="5" height="1" fill="#673ab7"/><rect x="846" y="851" width="5" height="1" fill="#673ab7"/><rect x="857" y="851" width="5" height="1" fill="#673ab7"/><rect x="868" y="851" width="5" height="1" fill="#673ab7"/><rect x="879" y="851" width="5" height="1" fill="#673ab7"/><rect x="890" y="851" width="5" height="1" fill="#673ab7"/><rect x="901" y="851" width="5" height="1" fill="#673ab7"/><rect x="912" y="851" width="5" height="1" fill="#673ab7"/><rect x="923" y="851" width="5" height="1" fill="#673ab7"/><rect x="934" y="851" width="5" height="1" fill="#673ab7"/><rect x="945" y="851" width="5" height="1" fill="#673ab7"/><rect x="956" y="851" width="5" height="1" fill="#673ab7"/><rect x="967" y="851" width="5" height="1" fill="#673ab7"/><rect x="978" y="851" width="5" height="1" fill="#673ab7"/><rect x="989" y="851" width="5" height="1" fill="#673ab7"/><rect x="1000" y="851" width="5" height="1" fill="#673ab7"/><rect x="1011" y="851" width="5" height="1" fill="#673ab7"/><rect x="1022" y="851" width="5" height="1" fill="#673ab7"/><rect x="1033" y="851" width="5" height="1" fill="#673ab7"/><rect x="1044" y="851" width="5" height="1" fill="#673ab7"/><rect x="1055" y="851" width="5" height="1" fill="#673ab7"/><rect x="1066" y="851" width="5" height="1" fill="#673ab7"/><rect x="1077" y="851" width="5" height="1" fill="#673ab7"/><rect x="1088" y="851" width="5" height="1" fill="#673ab7"/><rect x="1099" y="851" width="5" height="1" fill="#673ab7"/><rect x="1110" y="851" width="5" height="1" fill="#673ab7"/><rect x="1121" y="851" width="5" height="1" fill="#673ab7"/><rect x="1132" y="851" width="5" height="1" fill="#673ab7"/><rect x="1143" y="851" width="5" height="1" fill="#673ab7"/><rect x="1154" y="851" width="5" height="1" fill="#673ab7"/><rect x="1165" y="851" width="5" height="1" fill="#673ab7"/><rect x="1176" y="851" width="5" height="1" fill="#673ab7"/><rect x="1187" y="851" width="5" height="1" fill="#673ab7"/><rect x="1198" y="851" width="5" height="1" fill="#673ab7"/><rect x="1209" y="851" width="5" height="1" fill="#673ab7"/><rect x="1220" y="851" width="5" height="1" fill="#673ab7"/><rect x="1231" y="851" width="5" height="1" fill="#673ab7"/><rect x="1242" y="851" width="5" height="1" fill="#673ab7"/><rect x="1253" y="851" width="5" height="1" fill="#673ab7"/><rect x="1264" y="851" width="5" height="1" fill="#673ab7"/><rect x="1275" y="851" width="5" height="1" fill="#673ab7"/><rect x="1286" y="851" width="5" height="1" fill="#673ab7"/><rect x="1297" y="851" width="5" height="1" fill="#673ab7"/><rect x="1308" y="851" width="5" height="1" fill="#673ab7"/><rect x="1319" y="851" width="5" height="1" fill="#673ab7"/><rect x="1330" y="851" width="5" height="1" fill="#673ab7"/><rect x="1341" y="851" width="5" height="1" fill="#673ab7"/><rect x="1352" y="851" width="5" height="1" fill="#673ab7"/><rect x="1363" y="851" width="5" height="1" fill="#673ab7"/><rect x="1374" y="851" width="5" height="1" fill="#673ab7"/><rect x="1385" y="851" width="5" height="1" fill="#673ab7"/><rect x="1396" y="851" width="5" height="1" fill="#673ab7"/><rect x="1407" y="851" width="5" height="1" fill="#673ab7"/><rect x="1418" y="851" width="5" height="1" fill="#673ab7"/><rect x="1429" y="851" width="5" height="1" fill="#673ab7"/><rect x="1440" y="851" width="5" height="1" fill="#673ab7"/><rect x="1451" y="851" width="5" height="1" fill="#673ab7"/><rect x="1462" y="851" width="5" height="1" fill="#673ab7"/><rect x="1473" y="851" width="5" height="1" fill="#673ab7"/><rect x="1484" y="851" width="5" height="1" fill="#673ab7"/><rect x="1495" y="851" width="5" height="1" fill="#673ab7"/><rect x="1506" y="851" width="5" height="1" fill="#673ab7"/><rect x="1517" y="851" width="5" height="1" fill="#673ab7"/><rect x="1528" y="851" width="5" height="1" fill="#673ab7"/><rect x="1539" y="851" width="5" height="1" fill="#673ab7"/><rect x="1550" y="851" width="5" height="1" fill="#673ab7"/><rect x="1561" y="851" width="5" height="1" fill="#673ab7"/><rect x="1572" y="851" width="5" height="1" fill="#673ab7"/><rect x="1583" y="851" width="5" height="1" fill="#673ab7"/><rect x="1594" y="851" width="5" height="1" fill="#673ab7"/><rect x="1605" y="851" width="5" height="1" fill="#673ab7"/><rect x="1616" y="851" width="5" height="1" fill="#673ab7"/><rect x="1627" y="851" width="5" height="1" fill="#673ab7"/><rect x="1638" y="851" width="5" height="1" fill="#673ab7"/><rect x="1649" y="851" width="5" height="1" fill="#673ab7"/><rect x="1660" y="851" width="5" height="1" fill="#673ab7"/><rect x="1671" y="851" width="5" height="1" fill="#673ab7"/><rect x="1682" y="851" width="5" height="1" fill="#673ab7"/><rect x="1693" y="851" width="5" height="1" fill="#673ab7"/><rect x="1704" y="851" width="5" height="1" fill="#673ab7"/><rect x="1715" y="851" width="5" height="1" fill="#673ab7"/><rect x="1726" y="851" width="5" height="1" fill="#673ab7"/><rect x="1737" y="851" width="5" height="1" fill="#673ab7"/>
</g>
<g clip-path="url(#pane)" fill="none" stroke-linejoin="round" stroke-linecap="butt">
<path d="M9.0,669.3C10.6,670.4 15.3,673.9 18.9,675.8C22.4,677.8 26.6,679.8 30.4,681.2C34.1,682.6 38.6,682.8 41.5,684.2C44.3,685.5 44.4,687.3 47.4,689.1C50.4,690.9 55.3,692.9 59.3,695.0C63.3,697.2 67.5,699.7 71.4,702.0C75.2,704.3 78.4,706.4 82.2,708.9C86.1,711.4 91.0,715.0 94.3,716.8C97.6,718.6 99.0,719.1 102.0,719.8C105.1,720.5 107.8,720.9 112.3,721.2C116.9,721.5 124.5,721.9 129.4,721.8C134.2,721.6 137.5,720.2 141.5,720.2C145.4,720.2 150.4,721.3 153.3,721.8C156.3,722.2 157.0,722.6 159.0,722.9C161.0,723.1 163.5,723.4 165.4,723.4C167.3,723.4 167.5,723.1 170.3,722.9C173.1,722.7 178.3,722.5 182.4,722.1C186.4,721.6 190.6,720.7 194.4,720.1C198.3,719.5 201.5,718.8 205.3,718.5C209.1,718.3 213.2,718.6 217.2,718.5C221.2,718.4 226.3,718.5 229.3,718.1C232.3,717.7 233.4,717.0 235.2,716.1C237.1,715.3 238.5,714.2 240.4,713.0C242.2,711.7 244.3,710.1 246.3,708.6C248.3,707.2 250.3,705.7 252.3,704.3C254.3,702.8 256.4,701.0 258.4,699.7C260.4,698.4 262.4,697.6 264.3,696.7C266.3,695.9 268.3,695.2 270.3,694.8C272.3,694.3 274.6,694.4 276.4,693.8C278.3,693.2 279.6,692.2 281.4,691.2C283.2,690.2 285.3,688.7 287.3,687.8C289.3,686.9 291.3,686.5 293.5,685.8C295.6,685.2 297.9,684.8 300.0,684.2C302.1,683.6 304.0,683.0 306.0,682.3C308.0,681.5 310.0,680.2 312.0,679.5C314.0,678.7 316.0,678.2 318.0,677.7C320.0,677.1 322.2,676.6 324.0,676.3C325.8,675.9 327.2,675.9 329.0,675.7C330.8,675.5 333.0,675.4 335.0,674.9C337.0,674.3 339.0,673.2 341.0,672.5C343.0,671.9 345.0,671.4 347.0,670.8C349.0,670.2 351.0,669.6 353.0,669.0C355.0,668.4 357.0,668.0 359.0,667.2C361.0,666.3 363.2,665.5 365.0,664.0C366.8,662.6 368.2,660.6 370.0,658.4C371.8,656.2 374.0,653.4 376.0,651.0C378.0,648.6 380.0,646.6 382.0,644.2C384.0,641.8 386.0,638.9 388.0,636.6C390.0,634.4 392.0,632.5 394.0,630.6C396.0,628.8 398.0,626.9 400.0,625.3C402.0,623.7 404.2,622.2 406.0,621.1C407.8,620.0 409.2,619.6 411.0,618.8C412.8,617.9 415.0,617.0 417.0,616.0C419.0,615.0 421.0,613.8 423.0,612.7C425.0,611.7 427.0,611.0 429.0,609.8C431.0,608.7 433.0,607.3 435.0,605.7C437.0,604.1 439.0,602.0 441.0,600.4C443.0,598.7 445.2,597.3 447.0,595.7C448.8,594.0 450.2,592.2 452.0,590.7C453.8,589.1 456.0,587.6 458.0,586.3C460.0,585.1 462.0,584.2 464.0,583.2C466.0,582.1 468.0,581.1 470.0,580.1C472.0,579.1 474.0,578.3 476.0,577.2C478.0,576.2 480.0,575.0 482.0,574.0C484.0,572.9 486.2,571.9 488.0,570.7C489.8,569.6 491.2,568.3 493.0,567.0C494.8,565.7 497.0,564.2 499.0,562.7C501.0,561.1 503.0,559.7 505.0,557.7C507.0,555.8 509.0,553.1 511.0,550.9C513.0,548.8 515.0,546.8 517.0,544.8C519.0,542.8 521.0,540.7 523.0,538.9C525.0,537.2 527.2,535.8 529.0,534.4C530.8,532.9 532.2,531.4 534.0,530.3C535.8,529.2 538.0,528.8 540.0,527.8C542.0,526.9 544.0,525.7 546.0,524.7C548.0,523.6 550.0,522.4 552.0,521.4C554.0,520.4 556.0,519.9 558.0,518.7C560.0,517.6 562.0,516.0 564.0,514.5C566.0,513.1 568.2,511.4 570.0,510.0C571.8,508.5 573.2,506.9 575.0,505.8C576.8,504.8 579.0,504.6 581.0,503.9C583.0,503.2 585.0,502.3 587.0,501.6C589.0,501.0 591.0,500.5 593.0,500.1C595.0,499.6 597.0,499.2 599.0,498.8C601.0,498.5 603.0,498.2 605.0,497.8C607.0,497.3 609.2,496.6 611.0,495.9C612.8,495.3 614.2,494.4 616.0,493.8C617.8,493.2 620.0,493.0 622.0,492.4C624.0,491.7 626.0,490.7 628.0,490.0C630.0,489.3 632.0,488.7 634.0,488.0C636.0,487.4 638.0,486.7 640.0,486.0C642.0,485.3 644.0,484.7 646.0,483.8C648.0,483.0 650.2,481.6 652.0,480.9C653.8,480.1 655.2,479.6 657.0,479.3C658.8,478.9 661.0,478.8 663.0,479.0C665.0,479.2 667.0,480.1 669.0,480.5C671.0,481.0 673.0,481.3 675.0,481.8C677.0,482.3 679.0,483.1 681.0,483.3C683.0,483.6 685.0,483.3 687.0,483.3C689.0,483.2 691.2,483.3 693.0,483.0C694.8,482.8 696.2,482.6 698.0,481.9C699.8,481.1 702.0,479.5 704.0,478.8C706.0,478.0 708.0,478.0 710.0,477.4C712.0,476.8 714.0,475.9 716.0,475.3C718.0,474.8 720.0,474.3 722.0,474.1C724.0,473.9 726.0,474.0 728.0,474.2C730.0,474.4 732.2,475.1 734.0,475.2C735.8,475.4 737.2,475.1 739.0,475.3C740.8,475.4 743.0,475.8 745.0,476.1C747.0,476.4 749.0,476.7 751.0,477.0C753.0,477.3 755.0,477.6 757.0,477.8C759.0,477.9 761.0,477.9 763.0,477.9C765.0,477.8 767.0,477.5 769.0,477.4C771.0,477.3 773.2,477.4 775.0,477.3C776.8,477.2 778.2,476.9 780.0,476.8C781.8,476.7 784.0,476.7 786.0,476.8C788.0,476.9 790.0,477.3 792.0,477.5C794.0,477.8 796.0,477.7 798.0,478.1C800.0,478.5 802.0,479.3 804.0,479.7C806.0,480.1 808.0,480.2 810.0,480.6C812.0,480.9 814.2,481.7 816.0,481.9C817.8,482.1 819.2,481.9 821.0,481.8C822.8,481.7 825.0,481.5 827.0,481.3C829.0,481.1 831.0,480.6 833.0,480.4C835.0,480.2 837.0,480.3 839.0,480.1C841.0,479.9 843.0,479.5 845.0,479.0C847.0,478.5 849.0,477.5 851.0,477.1C853.0,476.7 855.2,476.8 857.0,476.6C858.8,476.3 860.2,475.8 862.0,475.6C863.8,475.4 866.0,475.5 868.0,475.3C870.0,475.1 872.0,474.8 874.0,474.4C876.0,473.9 878.0,473.4 880.0,472.7C882.0,472.1 884.0,471.4 886.0,470.6C888.0,469.7 890.0,468.5 892.0,467.6C894.0,466.7 896.2,465.9 898.0,465.2C899.8,464.4 901.2,463.8 903.0,463.1C904.8,462.4 907.0,461.5 909.0,460.8C911.0,460.0 913.0,459.3 915.0,458.7C917.0,458.0 919.0,457.4 921.0,456.7C923.0,456.1 925.0,455.6 927.0,455.0C929.0,454.4 931.0,453.6 933.0,453.0C935.0,452.4 937.2,451.8 939.0,451.4C940.8,451.1 942.2,451.0 944.0,450.8C945.8,450.7 948.0,450.4 950.0,450.4C952.0,450.4 954.0,450.9 956.0,451.1C958.0,451.2 960.0,451.3 962.0,451.3C964.0,451.2 966.0,450.9 968.0,450.8C970.0,450.7 972.0,450.7 974.0,450.8C976.0,450.9 978.2,451.1 980.0,451.3C981.8,451.5 983.2,451.7 985.0,452.0C986.8,452.2 989.0,452.5 991.0,452.7C993.0,452.9 995.0,453.3 997.0,453.2C999.0,453.2 1001.0,452.7 1003.0,452.5C1005.0,452.3 1007.0,452.3 1009.0,452.0C1011.0,451.7 1013.0,451.3 1015.0,450.9C1017.0,450.4 1019.2,450.2 1021.0,449.5C1022.8,448.7 1024.2,447.3 1026.0,446.5C1027.8,445.7 1030.0,445.4 1032.0,444.5C1034.0,443.7 1036.0,442.6 1038.0,441.4C1040.0,440.1 1042.0,438.5 1044.0,436.9C1046.0,435.3 1048.0,433.6 1050.0,432.0C1052.0,430.3 1054.0,428.6 1056.0,426.9C1058.0,425.2 1060.2,423.5 1062.0,421.8C1063.8,420.1 1065.2,418.3 1067.0,416.7C1068.8,415.0 1071.0,413.5 1073.0,411.8C1075.0,410.2 1077.0,408.3 1079.0,406.7C1081.0,405.2 1083.0,403.9 1085.0,402.3C1087.0,400.7 1089.0,398.6 1091.0,397.1C1093.0,395.6 1095.0,394.4 1097.0,393.2C1099.0,392.0 1101.2,391.2 1103.0,390.1C1104.8,388.9 1106.2,387.8 1108.0,386.4C1109.8,385.0 1112.0,383.2 1114.0,381.8C1116.0,380.4 1118.0,379.3 1120.0,378.0C1122.0,376.6 1124.0,375.1 1126.0,373.8C1128.0,372.5 1130.0,371.1 1132.0,370.0C1134.0,368.9 1136.0,368.1 1138.0,367.2C1140.0,366.4 1142.2,365.4 1144.0,364.8C1145.8,364.3 1147.2,364.1 1149.0,363.8C1150.8,363.5 1153.0,363.3 1155.0,363.1C1157.0,362.8 1159.0,362.5 1161.0,362.2C1163.0,361.9 1165.0,361.5 1167.0,361.2C1169.0,360.8 1171.0,360.3 1173.0,359.8C1175.0,359.3 1177.0,358.4 1179.0,358.1C1181.0,357.9 1183.2,358.3 1185.0,358.3C1186.8,358.3 1188.2,358.3 1190.0,358.3C1191.8,358.3 1194.0,358.2 1196.0,358.3C1198.0,358.4 1200.0,358.8 1202.0,358.8C1204.0,358.8 1206.0,358.4 1208.0,358.3C1210.0,358.2 1212.0,358.0 1214.0,358.1C1216.0,358.2 1218.0,358.5 1220.0,358.8C1222.0,359.0 1224.2,359.3 1226.0,359.5C1227.8,359.8 1229.2,360.1 1231.0,360.3C1232.8,360.4 1235.0,360.5 1237.0,360.4C1239.0,360.3 1241.0,360.1 1243.0,359.8C1245.0,359.5 1247.0,359.1 1249.0,358.6C1251.0,358.1 1253.0,357.4 1255.0,356.9C1257.0,356.4 1259.0,356.0 1261.0,355.7C1263.0,355.3 1265.2,355.2 1267.0,354.9C1268.8,354.5 1270.2,354.1 1272.0,353.6C1273.8,353.1 1276.0,352.4 1278.0,351.9C1280.0,351.5 1282.0,351.2 1284.0,350.9C1286.0,350.6 1288.0,350.3 1290.0,350.0C1292.0,349.7 1294.0,349.5 1296.0,349.3C1298.0,349.1 1300.0,348.9 1302.0,348.7C1304.0,348.6 1306.2,348.5 1308.0,348.4C1309.8,348.2 1311.2,347.9 1313.0,347.9C1314.8,347.9 1317.0,348.3 1319.0,348.4C1321.0,348.4 1323.0,348.1 1325.0,348.0C1327.0,347.9 1329.0,347.9 1331.0,347.9C1333.0,347.9 1335.0,347.9 1337.0,348.2C1339.0,348.4 1341.0,348.8 1343.0,349.5C1345.0,350.1 1347.2,351.3 1349.0,352.3C1350.8,353.3 1352.2,354.4 1354.0,355.5C1355.8,356.6 1358.0,357.6 1360.0,358.7C1362.0,359.9 1364.0,361.2 1366.0,362.5C1368.0,363.7 1370.0,365.2 1372.0,366.2C1374.0,367.2 1376.0,367.5 1378.0,368.4C1380.0,369.2 1382.0,370.4 1384.0,371.4C1386.0,372.4 1388.2,373.4 1390.0,374.4C1391.8,375.4 1393.2,376.3 1395.0,377.2C1396.8,378.1 1399.0,378.8 1401.0,380.0C1403.0,381.1 1405.0,382.9 1407.0,384.2C1409.0,385.5 1411.0,386.5 1413.0,387.7C1415.0,388.8 1417.0,390.1 1419.0,391.3C1421.0,392.5 1424.0,394.2 1425.0,394.8" stroke="#2a6f2e" stroke-width="1.1"/>
<path d="M9.0,762.8C10.6,762.9 15.3,763.3 18.9,763.4C22.4,763.5 27.4,764.0 30.4,763.4C33.3,762.7 33.9,760.2 36.7,759.4C39.5,758.6 44.6,759.0 47.4,758.4C50.2,757.8 51.4,757.2 53.3,755.8C55.3,754.5 57.3,752.5 59.3,750.5C61.3,748.4 62.9,746.2 65.2,743.6C67.6,740.9 70.5,737.3 73.3,734.7C76.2,732.0 79.7,729.5 82.2,727.7C84.8,725.9 86.4,724.9 88.4,723.8C90.4,722.7 92.3,721.6 94.3,721.2C96.3,720.8 98.7,721.4 100.3,721.2C101.9,721.0 102.0,721.2 104.0,719.8C106.0,718.4 110.1,714.7 112.3,712.9C114.6,711.1 115.4,710.0 117.3,708.9C119.2,707.9 121.9,707.3 124.0,706.6C126.1,705.9 128.0,705.8 130.0,704.6C132.0,703.3 134.0,700.7 136.0,699.3C138.0,697.8 140.0,696.8 142.0,696.0C144.0,695.2 146.0,694.3 148.0,694.4C150.0,694.5 152.2,696.2 154.0,696.7C155.8,697.2 157.2,697.3 159.0,697.4C160.8,697.4 163.0,697.0 165.0,696.8C167.0,696.5 169.0,695.9 171.0,695.8C173.0,695.6 175.0,696.0 177.0,695.8C179.0,695.6 181.0,695.1 183.0,694.7C185.0,694.3 187.0,694.1 189.0,693.4C191.0,692.7 193.2,691.7 195.0,690.5C196.8,689.2 198.2,687.4 200.0,685.9C201.8,684.3 204.0,682.3 206.0,681.1C208.0,679.8 210.0,678.8 212.0,678.3C214.0,677.8 216.0,678.0 218.0,678.0C220.0,678.1 222.0,678.3 224.0,678.5C226.0,678.7 228.0,678.8 230.0,679.4C232.0,679.9 234.2,681.0 236.0,681.7C237.8,682.3 239.2,683.2 241.0,683.2C242.8,683.2 245.0,681.8 247.0,681.5C249.0,681.2 251.0,681.5 253.0,681.3C255.0,681.1 257.0,680.8 259.0,680.3C261.0,679.7 263.0,678.4 265.0,677.8C267.0,677.2 269.0,677.1 271.0,676.9C273.0,676.6 275.0,676.9 277.0,676.4C279.0,675.8 281.2,674.7 283.0,673.7C284.8,672.7 286.2,671.2 288.0,670.4C289.8,669.6 292.0,669.4 294.0,668.8C296.0,668.2 298.0,667.7 300.0,667.0C302.0,666.3 304.0,665.7 306.0,664.6C308.0,663.5 310.0,661.6 312.0,660.5C314.0,659.4 316.0,658.6 318.0,658.2C320.0,657.7 322.2,658.4 324.0,657.6C325.8,656.8 327.2,654.7 329.0,653.4C330.8,652.1 333.0,651.3 335.0,649.7C337.0,648.0 339.0,645.6 341.0,643.6C343.0,641.6 345.0,639.9 347.0,637.9C349.0,635.8 351.0,633.1 353.0,631.4C355.0,629.6 357.0,629.0 359.0,627.5C361.0,626.0 363.2,624.6 365.0,622.3C366.8,620.0 368.2,617.1 370.0,613.8C371.8,610.4 374.0,605.9 376.0,602.1C378.0,598.2 380.0,595.1 382.0,590.8C384.0,586.5 386.0,580.9 388.0,576.3C390.0,571.6 392.0,567.0 394.0,563.1C396.0,559.1 398.0,555.4 400.0,552.8C402.0,550.1 404.2,548.8 406.0,547.1C407.8,545.4 409.2,544.4 411.0,542.6C412.8,540.8 415.0,538.2 417.0,536.3C419.0,534.3 421.0,532.6 423.0,530.8C425.0,528.9 427.0,527.7 429.0,525.2C431.0,522.8 433.0,519.5 435.0,516.1C437.0,512.6 439.0,508.0 441.0,504.7C443.0,501.5 445.2,499.5 447.0,496.6C448.8,493.6 450.2,489.5 452.0,486.9C453.8,484.4 456.0,483.0 458.0,481.3C460.0,479.6 462.0,478.0 464.0,476.7C466.0,475.4 468.0,474.6 470.0,473.5C472.0,472.4 474.0,470.8 476.0,469.9C478.0,469.0 480.0,468.0 482.0,468.2C484.0,468.4 486.2,470.0 488.0,471.3C489.8,472.6 491.2,474.8 493.0,475.8C494.8,476.8 497.0,476.5 499.0,477.4C501.0,478.3 503.0,480.8 505.0,481.0C507.0,481.2 509.0,479.4 511.0,478.8C513.0,478.1 515.0,478.0 517.0,477.2C519.0,476.3 521.0,475.0 523.0,473.9C525.0,472.8 527.2,471.4 529.0,470.6C530.8,469.7 532.2,469.2 534.0,469.0C535.8,468.7 538.0,469.3 540.0,469.2C542.0,469.1 544.0,468.3 546.0,468.4C548.0,468.4 550.0,468.7 552.0,469.6C554.0,470.5 556.0,472.9 558.0,473.7C560.0,474.4 562.0,473.9 564.0,474.0C566.0,474.2 568.2,474.9 570.0,474.6C571.8,474.4 573.2,472.9 575.0,472.5C576.8,472.0 579.0,472.1 581.0,472.1C583.0,472.1 585.0,472.3 587.0,472.6C589.0,472.9 591.0,473.3 593.0,474.0C595.0,474.7 597.0,476.1 599.0,476.8C601.0,477.5 603.0,477.4 605.0,478.1C607.0,478.7 609.2,479.3 611.0,480.5C612.8,481.7 614.2,483.8 616.0,485.4C617.8,487.0 620.0,488.1 622.0,490.1C624.0,492.0 626.0,495.3 628.0,497.3C630.0,499.2 632.0,500.3 634.0,501.7C636.0,503.1 638.0,504.9 640.0,505.5C642.0,506.0 644.0,505.3 646.0,505.0C648.0,504.7 650.2,504.5 652.0,503.9C653.8,503.2 655.2,501.6 657.0,500.9C658.8,500.2 661.0,499.8 663.0,499.6C665.0,499.4 667.0,500.0 669.0,499.9C671.0,499.7 673.0,498.8 675.0,498.6C677.0,498.3 679.0,498.7 681.0,498.3C683.0,497.9 685.0,496.7 687.0,496.3C689.0,495.8 691.2,496.5 693.0,495.8C694.8,495.1 696.2,493.8 698.0,492.1C699.8,490.4 702.0,487.5 704.0,485.4C706.0,483.3 708.0,481.9 710.0,479.7C712.0,477.4 714.0,474.3 716.0,472.0C718.0,469.8 720.0,467.8 722.0,466.1C724.0,464.4 726.0,463.0 728.0,461.7C730.0,460.4 732.2,459.6 734.0,458.3C735.8,456.9 737.2,454.8 739.0,453.8C740.8,452.8 743.0,452.3 745.0,452.3C747.0,452.2 749.0,453.1 751.0,453.7C753.0,454.4 755.0,455.4 757.0,456.2C759.0,457.0 761.0,457.8 763.0,458.7C765.0,459.5 767.0,460.4 769.0,461.2C771.0,462.0 773.2,462.6 775.0,463.3C776.8,464.1 778.2,465.2 780.0,465.8C781.8,466.3 784.0,466.3 786.0,466.5C788.0,466.6 790.0,466.5 792.0,466.7C794.0,467.0 796.0,467.4 798.0,467.9C800.0,468.4 802.0,469.3 804.0,469.8C806.0,470.3 808.0,470.3 810.0,471.0C812.0,471.7 814.2,472.7 816.0,473.9C817.8,475.1 819.2,477.3 821.0,478.1C822.8,478.9 825.0,478.0 827.0,478.7C829.0,479.3 831.0,481.0 833.0,481.8C835.0,482.6 837.0,483.4 839.0,483.4C841.0,483.3 843.0,482.4 845.0,481.6C847.0,480.7 849.0,479.0 851.0,478.3C853.0,477.6 855.2,478.0 857.0,477.2C858.8,476.4 860.2,474.8 862.0,473.3C863.8,471.8 866.0,469.8 868.0,468.2C870.0,466.6 872.0,465.0 874.0,463.6C876.0,462.2 878.0,460.8 880.0,459.7C882.0,458.6 884.0,458.1 886.0,456.9C888.0,455.8 890.0,454.0 892.0,452.6C894.0,451.3 896.2,450.1 898.0,449.0C899.8,448.0 901.2,447.2 903.0,446.2C904.8,445.3 907.0,444.3 909.0,443.5C911.0,442.7 913.0,442.1 915.0,441.5C917.0,440.9 919.0,440.5 921.0,439.9C923.0,439.3 925.0,438.8 927.0,437.7C929.0,436.6 931.0,434.8 933.0,433.3C935.0,431.9 937.2,430.1 939.0,429.2C940.8,428.2 942.2,428.2 944.0,427.7C945.8,427.2 948.0,426.1 950.0,426.0C952.0,425.9 954.0,426.3 956.0,427.0C958.0,427.8 960.0,429.7 962.0,430.6C964.0,431.6 966.0,432.3 968.0,432.9C970.0,433.4 972.0,433.5 974.0,433.9C976.0,434.4 978.2,434.8 980.0,435.4C981.8,436.0 983.2,437.0 985.0,437.5C986.8,437.9 989.0,438.0 991.0,437.9C993.0,437.8 995.0,437.3 997.0,436.7C999.0,436.2 1001.0,435.2 1003.0,434.6C1005.0,433.9 1007.0,433.7 1009.0,433.0C1011.0,432.3 1013.0,431.3 1015.0,430.4C1017.0,429.5 1019.2,429.0 1021.0,427.7C1022.8,426.4 1024.2,424.1 1026.0,422.6C1027.8,421.0 1030.0,419.9 1032.0,418.4C1034.0,417.0 1036.0,415.5 1038.0,413.8C1040.0,412.2 1042.0,410.2 1044.0,408.5C1046.0,406.8 1048.0,405.4 1050.0,403.6C1052.0,401.7 1054.0,399.7 1056.0,397.3C1058.0,394.8 1060.2,391.7 1062.0,388.7C1063.8,385.6 1065.2,382.5 1067.0,379.0C1068.8,375.5 1071.0,371.6 1073.0,367.6C1075.0,363.6 1077.0,358.8 1079.0,355.1C1081.0,351.4 1083.0,349.0 1085.0,345.5C1087.0,341.9 1089.0,337.1 1091.0,333.7C1093.0,330.2 1095.0,327.5 1097.0,324.6C1099.0,321.7 1101.2,319.0 1103.0,316.2C1104.8,313.5 1106.2,311.0 1108.0,308.2C1109.8,305.4 1112.0,302.0 1114.0,299.4C1116.0,296.7 1118.0,294.5 1120.0,292.3C1122.0,290.1 1124.0,288.1 1126.0,286.2C1128.0,284.4 1130.0,282.8 1132.0,281.1C1134.0,279.4 1136.0,277.2 1138.0,276.0C1140.0,274.9 1142.2,274.3 1144.0,274.2C1145.8,274.1 1147.2,275.0 1149.0,275.6C1150.8,276.1 1153.0,276.6 1155.0,277.6C1157.0,278.5 1159.0,279.9 1161.0,281.4C1163.0,282.9 1165.0,284.8 1167.0,286.6C1169.0,288.4 1171.0,290.3 1173.0,292.1C1175.0,294.0 1177.0,295.3 1179.0,297.7C1181.0,300.1 1183.2,303.7 1185.0,306.7C1186.8,309.6 1188.2,312.1 1190.0,315.2C1191.8,318.3 1194.0,321.9 1196.0,325.1C1198.0,328.4 1200.0,331.4 1202.0,334.7C1204.0,337.9 1206.0,341.6 1208.0,344.6C1210.0,347.5 1212.0,349.7 1214.0,352.2C1216.0,354.7 1218.0,357.2 1220.0,359.5C1222.0,361.8 1224.2,363.5 1226.0,366.2C1227.8,368.8 1229.2,372.5 1231.0,375.5C1232.8,378.4 1235.0,381.2 1237.0,383.8C1239.0,386.4 1241.0,388.6 1243.0,391.1C1245.0,393.6 1247.0,396.3 1249.0,398.6C1251.0,400.9 1253.0,403.0 1255.0,404.9C1257.0,406.8 1259.0,408.8 1261.0,410.0C1263.0,411.1 1265.2,411.3 1267.0,411.6C1268.8,411.9 1270.2,411.7 1272.0,411.8C1273.8,411.8 1276.0,411.7 1278.0,411.8C1280.0,411.9 1282.0,412.2 1284.0,412.3C1286.0,412.4 1288.0,412.2 1290.0,412.2C1292.0,412.2 1294.0,413.0 1296.0,412.5C1298.0,411.9 1300.0,410.3 1302.0,409.1C1304.0,408.0 1306.2,406.8 1308.0,405.6C1309.8,404.3 1311.2,403.3 1313.0,401.8C1314.8,400.2 1317.0,398.0 1319.0,396.5C1321.0,394.9 1323.0,393.9 1325.0,392.6C1327.0,391.2 1329.0,390.0 1331.0,388.3C1333.0,386.5 1335.0,383.7 1337.0,382.0C1339.0,380.4 1341.0,379.2 1343.0,378.4C1345.0,377.6 1347.2,377.6 1349.0,377.2C1350.8,376.9 1352.2,376.5 1354.0,376.3C1355.8,376.1 1358.0,376.1 1360.0,376.2C1362.0,376.4 1364.0,376.9 1366.0,377.3C1368.0,377.6 1370.0,378.3 1372.0,378.3C1374.0,378.3 1376.0,377.8 1378.0,377.2C1380.0,376.7 1382.0,375.1 1384.0,375.0C1386.0,374.9 1388.2,375.9 1390.0,376.6C1391.8,377.4 1393.2,378.8 1395.0,379.5C1396.8,380.2 1399.0,379.9 1401.0,380.8C1403.0,381.7 1405.0,383.6 1407.0,384.8C1409.0,386.1 1411.0,386.9 1413.0,388.2C1415.0,389.5 1417.0,391.2 1419.0,392.7C1421.0,394.2 1424.0,396.4 1425.0,397.1" stroke="#2962ff" stroke-width="1.15"/>
</g>
<g shape-rendering="crispEdges" clip-path="url(#pane)">
<rect x="13" y="650" width="1" height="71" fill="#000"/>
<rect x="11" y="701" width="5" height="13" fill="#000"/>
<rect x="12" y="702" width="3" height="11" fill="#f7483b"/>
<rect x="19" y="701" width="1" height="46" fill="#000"/>
<rect x="17" y="713" width="5" height="23" fill="#000"/>
<rect x="18" y="714" width="3" height="21" fill="#f7483b"/>
<rect x="25" y="707" width="1" height="32" fill="#000"/>
<rect x="23" y="714" width="5" height="22" fill="#000"/>
<rect x="24" y="715" width="3" height="20" fill="#1c6122"/>
<rect x="31" y="705" width="1" height="25" fill="#000"/>
<rect x="29" y="716" width="5" height="9" fill="#000"/>
<rect x="30" y="717" width="3" height="7" fill="#f7483b"/>
<rect x="36" y="615" width="1" height="110" fill="#000"/>
<rect x="34" y="646" width="5" height="79" fill="#000"/>
<rect x="35" y="647" width="3" height="77" fill="#1c6122"/>
<rect x="42" y="644" width="1" height="64" fill="#000"/>
<rect x="40" y="647" width="5" height="54" fill="#000"/>
<rect x="41" y="648" width="3" height="52" fill="#f7483b"/>
<rect x="48" y="689" width="1" height="40" fill="#000"/>
<rect x="46" y="700" width="5" height="22" fill="#000"/>
<rect x="47" y="701" width="3" height="20" fill="#f7483b"/>
<rect x="54" y="662" width="1" height="62" fill="#000"/>
<rect x="52" y="681" width="5" height="41" fill="#000"/>
<rect x="53" y="682" width="3" height="39" fill="#1c6122"/>
<rect x="60" y="659" width="1" height="43" fill="#000"/>
<rect x="58" y="660" width="5" height="23" fill="#000"/>
<rect x="59" y="661" width="3" height="21" fill="#1c6122"/>
<rect x="66" y="628" width="1" height="66" fill="#000"/>
<rect x="64" y="664" width="5" height="28" fill="#000"/>
<rect x="65" y="665" width="3" height="26" fill="#f7483b"/>
<rect x="72" y="659" width="1" height="45" fill="#000"/>
<rect x="70" y="691" width="5" height="1" fill="#000"/>
<rect x="77" y="689" width="1" height="51" fill="#000"/>
<rect x="75" y="692" width="5" height="45" fill="#000"/>
<rect x="76" y="693" width="3" height="43" fill="#f7483b"/>
<rect x="83" y="728" width="1" height="40" fill="#000"/>
<rect x="81" y="735" width="5" height="29" fill="#000"/>
<rect x="82" y="736" width="3" height="27" fill="#f7483b"/>
<rect x="89" y="750" width="1" height="31" fill="#000"/>
<rect x="87" y="761" width="5" height="3" fill="#000"/>
<rect x="88" y="762" width="3" height="1" fill="#1c6122"/>
<rect x="95" y="745" width="1" height="33" fill="#000"/>
<rect x="93" y="758" width="5" height="4" fill="#000"/>
<rect x="94" y="759" width="3" height="2" fill="#1c6122"/>
<rect x="101" y="733" width="1" height="32" fill="#000"/>
<rect x="99" y="739" width="5" height="20" fill="#000"/>
<rect x="100" y="740" width="3" height="18" fill="#1c6122"/>
<rect x="107" y="701" width="1" height="55" fill="#000"/>
<rect x="105" y="715" width="5" height="28" fill="#000"/>
<rect x="106" y="716" width="3" height="26" fill="#1c6122"/>
<rect x="113" y="687" width="1" height="42" fill="#000"/>
<rect x="111" y="693" width="5" height="25" fill="#000"/>
<rect x="112" y="694" width="3" height="23" fill="#1c6122"/>
<rect x="118" y="652" width="1" height="43" fill="#000"/>
<rect x="116" y="655" width="5" height="38" fill="#000"/>
<rect x="117" y="656" width="3" height="36" fill="#1c6122"/>
<rect x="124" y="639" width="1" height="35" fill="#000"/>
<rect x="122" y="644" width="5" height="23" fill="#000"/>
<rect x="123" y="645" width="3" height="21" fill="#1c6122"/>
<rect x="130" y="641" width="1" height="60" fill="#000"/>
<rect x="128" y="647" width="5" height="26" fill="#000"/>
<rect x="129" y="648" width="3" height="24" fill="#f7483b"/>
<rect x="136" y="618" width="1" height="58" fill="#000"/>
<rect x="134" y="629" width="5" height="43" fill="#000"/>
<rect x="135" y="630" width="3" height="41" fill="#1c6122"/>
<rect x="142" y="611" width="1" height="45" fill="#000"/>
<rect x="140" y="630" width="5" height="20" fill="#000"/>
<rect x="141" y="631" width="3" height="18" fill="#f7483b"/>
<rect x="148" y="640" width="1" height="57" fill="#000"/>
<rect x="146" y="651" width="5" height="42" fill="#000"/>
<rect x="147" y="652" width="3" height="40" fill="#f7483b"/>
<rect x="154" y="649" width="1" height="46" fill="#000"/>
<rect x="152" y="691" width="5" height="1" fill="#000"/>
<rect x="159" y="678" width="1" height="61" fill="#000"/>
<rect x="157" y="690" width="5" height="25" fill="#000"/>
<rect x="158" y="691" width="3" height="23" fill="#f7483b"/>
<rect x="165" y="705" width="1" height="35" fill="#000"/>
<rect x="163" y="709" width="5" height="12" fill="#000"/>
<rect x="164" y="710" width="3" height="10" fill="#1c6122"/>
<rect x="171" y="653" width="1" height="61" fill="#000"/>
<rect x="169" y="661" width="5" height="49" fill="#000"/>
<rect x="170" y="662" width="3" height="47" fill="#1c6122"/>
<rect x="177" y="655" width="1" height="35" fill="#000"/>
<rect x="175" y="661" width="5" height="1" fill="#000"/>
<rect x="183" y="663" width="1" height="30" fill="#000"/>
<rect x="181" y="666" width="5" height="4" fill="#000"/>
<rect x="182" y="667" width="3" height="2" fill="#f7483b"/>
<rect x="189" y="656" width="1" height="30" fill="#000"/>
<rect x="187" y="665" width="5" height="6" fill="#000"/>
<rect x="188" y="666" width="3" height="4" fill="#1c6122"/>
<rect x="195" y="633" width="1" height="49" fill="#000"/>
<rect x="193" y="666" width="5" height="12" fill="#000"/>
<rect x="194" y="667" width="3" height="10" fill="#f7483b"/>
<rect x="200" y="650" width="1" height="56" fill="#000"/>
<rect x="198" y="662" width="5" height="10" fill="#000"/>
<rect x="199" y="663" width="3" height="8" fill="#f7483b"/>
<rect x="206" y="627" width="1" height="53" fill="#000"/>
<rect x="204" y="665" width="5" height="6" fill="#000"/>
<rect x="205" y="666" width="3" height="4" fill="#1c6122"/>
<rect x="212" y="634" width="1" height="71" fill="#000"/>
<rect x="210" y="665" width="5" height="38" fill="#000"/>
<rect x="211" y="666" width="3" height="36" fill="#f7483b"/>
<rect x="218" y="696" width="1" height="40" fill="#000"/>
<rect x="216" y="702" width="5" height="33" fill="#000"/>
<rect x="217" y="703" width="3" height="31" fill="#f7483b"/>
<rect x="224" y="704" width="1" height="41" fill="#000"/>
<rect x="222" y="725" width="5" height="7" fill="#000"/>
<rect x="223" y="726" width="3" height="5" fill="#1c6122"/>
<rect x="230" y="698" width="1" height="54" fill="#000"/>
<rect x="228" y="710" width="5" height="15" fill="#000"/>
<rect x="229" y="711" width="3" height="13" fill="#1c6122"/>
<rect x="236" y="683" width="1" height="39" fill="#000"/>
<rect x="234" y="701" width="5" height="11" fill="#000"/>
<rect x="235" y="702" width="3" height="9" fill="#1c6122"/>
<rect x="241" y="671" width="1" height="67" fill="#000"/>
<rect x="239" y="675" width="5" height="26" fill="#000"/>
<rect x="240" y="676" width="3" height="24" fill="#1c6122"/>
<rect x="247" y="632" width="1" height="49" fill="#000"/>
<rect x="245" y="638" width="5" height="35" fill="#000"/>
<rect x="246" y="639" width="3" height="33" fill="#1c6122"/>
<rect x="253" y="624" width="1" height="50" fill="#000"/>
<rect x="251" y="625" width="5" height="14" fill="#000"/>
<rect x="252" y="626" width="3" height="12" fill="#1c6122"/>
<rect x="259" y="583" width="1" height="47" fill="#000"/>
<rect x="257" y="626" width="5" height="3" fill="#000"/>
<rect x="258" y="627" width="3" height="1" fill="#f7483b"/>
<rect x="265" y="607" width="1" height="51" fill="#000"/>
<rect x="263" y="623" width="5" height="21" fill="#000"/>
<rect x="264" y="624" width="3" height="19" fill="#f7483b"/>
<rect x="271" y="631" width="1" height="42" fill="#000"/>
<rect x="269" y="643" width="5" height="30" fill="#000"/>
<rect x="270" y="644" width="3" height="28" fill="#f7483b"/>
<rect x="277" y="670" width="1" height="45" fill="#000"/>
<rect x="275" y="673" width="5" height="32" fill="#000"/>
<rect x="276" y="674" width="3" height="30" fill="#f7483b"/>
<rect x="283" y="649" width="1" height="74" fill="#000"/>
<rect x="281" y="656" width="5" height="49" fill="#000"/>
<rect x="282" y="657" width="3" height="47" fill="#1c6122"/>
<rect x="288" y="582" width="1" height="77" fill="#000"/>
<rect x="286" y="595" width="5" height="64" fill="#000"/>
<rect x="287" y="596" width="3" height="62" fill="#1c6122"/>
<rect x="294" y="593" width="1" height="37" fill="#000"/>
<rect x="292" y="595" width="5" height="35" fill="#000"/>
<rect x="293" y="596" width="3" height="33" fill="#f7483b"/>
<rect x="300" y="610" width="1" height="37" fill="#000"/>
<rect x="298" y="630" width="5" height="3" fill="#000"/>
<rect x="299" y="631" width="3" height="1" fill="#f7483b"/>
<rect x="306" y="581" width="1" height="62" fill="#000"/>
<rect x="304" y="618" width="5" height="15" fill="#000"/>
<rect x="305" y="619" width="3" height="13" fill="#1c6122"/>
<rect x="312" y="546" width="1" height="72" fill="#000"/>
<rect x="310" y="595" width="5" height="21" fill="#000"/>
<rect x="311" y="596" width="3" height="19" fill="#1c6122"/>
<rect x="318" y="596" width="1" height="51" fill="#000"/>
<rect x="316" y="598" width="5" height="27" fill="#000"/>
<rect x="317" y="599" width="3" height="25" fill="#f7483b"/>
<rect x="324" y="615" width="1" height="40" fill="#000"/>
<rect x="322" y="623" width="5" height="32" fill="#000"/>
<rect x="323" y="624" width="3" height="30" fill="#f7483b"/>
<rect x="329" y="606" width="1" height="54" fill="#000"/>
<rect x="327" y="618" width="5" height="37" fill="#000"/>
<rect x="328" y="619" width="3" height="35" fill="#1c6122"/>
<rect x="335" y="614" width="1" height="56" fill="#000"/>
<rect x="333" y="620" width="5" height="40" fill="#000"/>
<rect x="334" y="621" width="3" height="38" fill="#f7483b"/>
<rect x="341" y="600" width="1" height="61" fill="#000"/>
<rect x="339" y="604" width="5" height="56" fill="#000"/>
<rect x="340" y="605" width="3" height="54" fill="#1c6122"/>
<rect x="347" y="586" width="1" height="42" fill="#000"/>
<rect x="345" y="595" width="5" height="12" fill="#000"/>
<rect x="346" y="596" width="3" height="10" fill="#1c6122"/>
<rect x="353" y="550" width="1" height="59" fill="#000"/>
<rect x="351" y="571" width="5" height="24" fill="#000"/>
<rect x="352" y="572" width="3" height="22" fill="#1c6122"/>
<rect x="359" y="550" width="1" height="57" fill="#000"/>
<rect x="357" y="571" width="5" height="27" fill="#000"/>
<rect x="358" y="572" width="3" height="25" fill="#f7483b"/>
<rect x="365" y="525" width="1" height="89" fill="#000"/>
<rect x="363" y="535" width="5" height="57" fill="#000"/>
<rect x="364" y="536" width="3" height="55" fill="#1c6122"/>
<rect x="370" y="448" width="1" height="97" fill="#000"/>
<rect x="368" y="454" width="5" height="83" fill="#000"/>
<rect x="369" y="455" width="3" height="81" fill="#1c6122"/>
<rect x="376" y="392" width="1" height="70" fill="#000"/>
<rect x="374" y="394" width="5" height="58" fill="#000"/>
<rect x="375" y="395" width="3" height="56" fill="#1c6122"/>
<rect x="382" y="393" width="1" height="83" fill="#000"/>
<rect x="380" y="394" width="5" height="25" fill="#000"/>
<rect x="381" y="395" width="3" height="23" fill="#f7483b"/>
<rect x="388" y="357" width="1" height="69" fill="#000"/>
<rect x="386" y="381" width="5" height="39" fill="#000"/>
<rect x="387" y="382" width="3" height="37" fill="#1c6122"/>
<rect x="394" y="381" width="1" height="63" fill="#000"/>
<rect x="392" y="384" width="5" height="57" fill="#000"/>
<rect x="393" y="385" width="3" height="55" fill="#f7483b"/>
<rect x="400" y="408" width="1" height="70" fill="#000"/>
<rect x="398" y="444" width="5" height="7" fill="#000"/>
<rect x="399" y="445" width="3" height="5" fill="#f7483b"/>
<rect x="406" y="399" width="1" height="85" fill="#000"/>
<rect x="404" y="448" width="5" height="35" fill="#000"/>
<rect x="405" y="449" width="3" height="33" fill="#f7483b"/>
<rect x="411" y="459" width="1" height="84" fill="#000"/>
<rect x="409" y="470" width="5" height="70" fill="#000"/>
<rect x="410" y="471" width="3" height="68" fill="#f7483b"/>
<rect x="417" y="499" width="1" height="46" fill="#000"/>
<rect x="415" y="505" width="5" height="29" fill="#000"/>
<rect x="416" y="506" width="3" height="27" fill="#1c6122"/>
<rect x="423" y="478" width="1" height="45" fill="#000"/>
<rect x="421" y="504" width="5" height="5" fill="#000"/>
<rect x="422" y="505" width="3" height="3" fill="#f7483b"/>
<rect x="429" y="440" width="1" height="65" fill="#000"/>
<rect x="427" y="484" width="5" height="19" fill="#000"/>
<rect x="428" y="485" width="3" height="17" fill="#1c6122"/>
<rect x="435" y="426" width="1" height="79" fill="#000"/>
<rect x="433" y="441" width="5" height="46" fill="#000"/>
<rect x="434" y="442" width="3" height="44" fill="#1c6122"/>
<rect x="441" y="425" width="1" height="47" fill="#000"/>
<rect x="439" y="427" width="5" height="17" fill="#000"/>
<rect x="440" y="428" width="3" height="15" fill="#1c6122"/>
<rect x="447" y="425" width="1" height="36" fill="#000"/>
<rect x="445" y="432" width="5" height="24" fill="#000"/>
<rect x="446" y="433" width="3" height="22" fill="#f7483b"/>
<rect x="452" y="448" width="1" height="32" fill="#000"/>
<rect x="450" y="458" width="5" height="9" fill="#000"/>
<rect x="451" y="459" width="3" height="7" fill="#f7483b"/>
<rect x="458" y="430" width="1" height="63" fill="#000"/>
<rect x="456" y="466" width="5" height="26" fill="#000"/>
<rect x="457" y="467" width="3" height="24" fill="#f7483b"/>
<rect x="464" y="487" width="1" height="34" fill="#000"/>
<rect x="462" y="491" width="5" height="13" fill="#000"/>
<rect x="463" y="492" width="3" height="11" fill="#f7483b"/>
<rect x="470" y="471" width="1" height="43" fill="#000"/>
<rect x="468" y="506" width="5" height="3" fill="#000"/>
<rect x="469" y="507" width="3" height="1" fill="#f7483b"/>
<rect x="476" y="495" width="1" height="32" fill="#000"/>
<rect x="474" y="506" width="5" height="20" fill="#000"/>
<rect x="475" y="507" width="3" height="18" fill="#f7483b"/>
<rect x="482" y="484" width="1" height="52" fill="#000"/>
<rect x="480" y="501" width="5" height="24" fill="#000"/>
<rect x="481" y="502" width="3" height="22" fill="#1c6122"/>
<rect x="488" y="483" width="1" height="34" fill="#000"/>
<rect x="486" y="500" width="5" height="17" fill="#000"/>
<rect x="487" y="501" width="3" height="15" fill="#f7483b"/>
<rect x="493" y="467" width="1" height="66" fill="#000"/>
<rect x="491" y="484" width="5" height="33" fill="#000"/>
<rect x="492" y="485" width="3" height="31" fill="#1c6122"/>
<rect x="499" y="435" width="1" height="56" fill="#000"/>
<rect x="497" y="450" width="5" height="32" fill="#000"/>
<rect x="498" y="451" width="3" height="30" fill="#1c6122"/>
<rect x="505" y="437" width="1" height="31" fill="#000"/>
<rect x="503" y="449" width="5" height="5" fill="#000"/>
<rect x="504" y="450" width="3" height="3" fill="#f7483b"/>
<rect x="511" y="386" width="1" height="70" fill="#000"/>
<rect x="509" y="395" width="5" height="57" fill="#000"/>
<rect x="510" y="396" width="3" height="55" fill="#1c6122"/>
<rect x="517" y="397" width="1" height="41" fill="#000"/>
<rect x="515" y="400" width="5" height="19" fill="#000"/>
<rect x="516" y="401" width="3" height="17" fill="#f7483b"/>
<rect x="523" y="400" width="1" height="44" fill="#000"/>
<rect x="521" y="416" width="5" height="7" fill="#000"/>
<rect x="522" y="417" width="3" height="5" fill="#1c6122"/>
<rect x="529" y="415" width="1" height="60" fill="#000"/>
<rect x="527" y="419" width="5" height="55" fill="#000"/>
<rect x="528" y="420" width="3" height="53" fill="#f7483b"/>
<rect x="534" y="467" width="1" height="33" fill="#000"/>
<rect x="532" y="473" width="5" height="7" fill="#000"/>
<rect x="533" y="474" width="3" height="5" fill="#1c6122"/>
<rect x="540" y="463" width="1" height="63" fill="#000"/>
<rect x="538" y="472" width="5" height="42" fill="#000"/>
<rect x="539" y="473" width="3" height="40" fill="#f7483b"/>
<rect x="546" y="461" width="1" height="55" fill="#000"/>
<rect x="544" y="467" width="5" height="47" fill="#000"/>
<rect x="545" y="468" width="3" height="45" fill="#1c6122"/>
<rect x="552" y="434" width="1" height="37" fill="#000"/>
<rect x="550" y="466" width="5" height="4" fill="#000"/>
<rect x="551" y="467" width="3" height="2" fill="#1c6122"/>
<rect x="558" y="441" width="1" height="68" fill="#000"/>
<rect x="556" y="469" width="5" height="40" fill="#000"/>
<rect x="557" y="470" width="3" height="38" fill="#f7483b"/>
<rect x="564" y="460" width="1" height="63" fill="#000"/>
<rect x="562" y="462" width="5" height="45" fill="#000"/>
<rect x="563" y="463" width="3" height="43" fill="#1c6122"/>
<rect x="570" y="459" width="1" height="42" fill="#000"/>
<rect x="568" y="467" width="5" height="12" fill="#000"/>
<rect x="569" y="468" width="3" height="10" fill="#f7483b"/>
<rect x="575" y="438" width="1" height="42" fill="#000"/>
<rect x="573" y="448" width="5" height="31" fill="#000"/>
<rect x="574" y="449" width="3" height="29" fill="#1c6122"/>
<rect x="581" y="438" width="1" height="62" fill="#000"/>
<rect x="579" y="450" width="5" height="47" fill="#000"/>
<rect x="580" y="451" width="3" height="45" fill="#f7483b"/>
<rect x="587" y="486" width="1" height="37" fill="#000"/>
<rect x="585" y="497" width="5" height="22" fill="#000"/>
<rect x="586" y="498" width="3" height="20" fill="#f7483b"/>
<rect x="593" y="506" width="1" height="51" fill="#000"/>
<rect x="591" y="518" width="5" height="36" fill="#000"/>
<rect x="592" y="519" width="3" height="34" fill="#f7483b"/>
<rect x="599" y="534" width="1" height="33" fill="#000"/>
<rect x="597" y="553" width="5" height="5" fill="#000"/>
<rect x="598" y="554" width="3" height="3" fill="#f7483b"/>
<rect x="605" y="530" width="1" height="43" fill="#000"/>
<rect x="603" y="541" width="5" height="17" fill="#000"/>
<rect x="604" y="542" width="3" height="15" fill="#1c6122"/>
<rect x="611" y="505" width="1" height="46" fill="#000"/>
<rect x="609" y="533" width="5" height="12" fill="#000"/>
<rect x="610" y="534" width="3" height="10" fill="#1c6122"/>
<rect x="616" y="526" width="1" height="54" fill="#000"/>
<rect x="614" y="535" width="5" height="14" fill="#000"/>
<rect x="615" y="536" width="3" height="12" fill="#f7483b"/>
<rect x="622" y="541" width="1" height="31" fill="#000"/>
<rect x="620" y="546" width="5" height="3" fill="#000"/>
<rect x="621" y="547" width="3" height="1" fill="#1c6122"/>
<rect x="628" y="539" width="1" height="26" fill="#000"/>
<rect x="626" y="539" width="5" height="10" fill="#000"/>
<rect x="627" y="540" width="3" height="8" fill="#1c6122"/>
<rect x="634" y="503" width="1" height="61" fill="#000"/>
<rect x="632" y="507" width="5" height="33" fill="#000"/>
<rect x="633" y="508" width="3" height="31" fill="#1c6122"/>
<rect x="640" y="476" width="1" height="37" fill="#000"/>
<rect x="638" y="491" width="5" height="19" fill="#000"/>
<rect x="639" y="492" width="3" height="17" fill="#1c6122"/>
<rect x="646" y="458" width="1" height="36" fill="#000"/>
<rect x="644" y="464" width="5" height="30" fill="#000"/>
<rect x="645" y="465" width="3" height="28" fill="#1c6122"/>
<rect x="652" y="441" width="1" height="36" fill="#000"/>
<rect x="650" y="450" width="5" height="17" fill="#000"/>
<rect x="651" y="451" width="3" height="15" fill="#1c6122"/>
<rect x="657" y="442" width="1" height="38" fill="#000"/>
<rect x="655" y="454" width="5" height="3" fill="#000"/>
<rect x="656" y="455" width="3" height="1" fill="#1c6122"/>
<rect x="663" y="428" width="1" height="30" fill="#000"/>
<rect x="661" y="441" width="5" height="16" fill="#000"/>
<rect x="662" y="442" width="3" height="14" fill="#1c6122"/>
<rect x="669" y="442" width="1" height="36" fill="#000"/>
<rect x="667" y="444" width="5" height="28" fill="#000"/>
<rect x="668" y="445" width="3" height="26" fill="#f7483b"/>
<rect x="675" y="469" width="1" height="38" fill="#000"/>
<rect x="673" y="472" width="5" height="11" fill="#000"/>
<rect x="674" y="473" width="3" height="9" fill="#f7483b"/>
<rect x="681" y="455" width="1" height="42" fill="#000"/>
<rect x="679" y="457" width="5" height="26" fill="#000"/>
<rect x="680" y="458" width="3" height="24" fill="#1c6122"/>
<rect x="687" y="405" width="1" height="57" fill="#000"/>
<rect x="685" y="437" width="5" height="25" fill="#000"/>
<rect x="686" y="438" width="3" height="23" fill="#1c6122"/>
<rect x="693" y="426" width="1" height="33" fill="#000"/>
<rect x="691" y="435" width="5" height="4" fill="#000"/>
<rect x="692" y="436" width="3" height="2" fill="#f7483b"/>
<rect x="698" y="416" width="1" height="34" fill="#000"/>
<rect x="696" y="423" width="5" height="17" fill="#000"/>
<rect x="697" y="424" width="3" height="15" fill="#1c6122"/>
<rect x="704" y="381" width="1" height="55" fill="#000"/>
<rect x="702" y="384" width="5" height="40" fill="#000"/>
<rect x="703" y="385" width="3" height="38" fill="#1c6122"/>
<rect x="710" y="376" width="1" height="63" fill="#000"/>
<rect x="708" y="388" width="5" height="51" fill="#000"/>
<rect x="709" y="389" width="3" height="49" fill="#f7483b"/>
<rect x="716" y="387" width="1" height="57" fill="#000"/>
<rect x="714" y="404" width="5" height="35" fill="#000"/>
<rect x="715" y="405" width="3" height="33" fill="#1c6122"/>
<rect x="722" y="390" width="1" height="48" fill="#000"/>
<rect x="720" y="402" width="5" height="22" fill="#000"/>
<rect x="721" y="403" width="3" height="20" fill="#f7483b"/>
<rect x="728" y="410" width="1" height="43" fill="#000"/>
<rect x="726" y="423" width="5" height="23" fill="#000"/>
<rect x="727" y="424" width="3" height="21" fill="#f7483b"/>
<rect x="734" y="436" width="1" height="44" fill="#000"/>
<rect x="732" y="443" width="5" height="37" fill="#000"/>
<rect x="733" y="444" width="3" height="35" fill="#f7483b"/>
<rect x="739" y="446" width="1" height="35" fill="#000"/>
<rect x="737" y="457" width="5" height="20" fill="#000"/>
<rect x="738" y="458" width="3" height="18" fill="#1c6122"/>
<rect x="745" y="447" width="1" height="67" fill="#000"/>
<rect x="743" y="456" width="5" height="53" fill="#000"/>
<rect x="744" y="457" width="3" height="51" fill="#f7483b"/>
<rect x="751" y="499" width="1" height="48" fill="#000"/>
<rect x="749" y="510" width="5" height="27" fill="#000"/>
<rect x="750" y="511" width="3" height="25" fill="#f7483b"/>
<rect x="757" y="535" width="1" height="22" fill="#000"/>
<rect x="755" y="536" width="5" height="6" fill="#000"/>
<rect x="756" y="537" width="3" height="4" fill="#f7483b"/>
<rect x="763" y="502" width="1" height="43" fill="#000"/>
<rect x="761" y="513" width="5" height="29" fill="#000"/>
<rect x="762" y="514" width="3" height="27" fill="#1c6122"/>
<rect x="769" y="491" width="1" height="26" fill="#000"/>
<rect x="767" y="501" width="5" height="13" fill="#000"/>
<rect x="768" y="502" width="3" height="11" fill="#1c6122"/>
<rect x="775" y="466" width="1" height="40" fill="#000"/>
<rect x="773" y="496" width="5" height="6" fill="#000"/>
<rect x="774" y="497" width="3" height="4" fill="#1c6122"/>
<rect x="780" y="468" width="1" height="30" fill="#000"/>
<rect x="778" y="490" width="5" height="7" fill="#000"/>
<rect x="779" y="491" width="3" height="5" fill="#1c6122"/>
<rect x="786" y="483" width="1" height="29" fill="#000"/>
<rect x="784" y="485" width="5" height="6" fill="#000"/>
<rect x="785" y="486" width="3" height="4" fill="#1c6122"/>
<rect x="792" y="465" width="1" height="33" fill="#000"/>
<rect x="790" y="487" width="5" height="1" fill="#000"/>
<rect x="798" y="455" width="1" height="39" fill="#000"/>
<rect x="796" y="481" width="5" height="7" fill="#000"/>
<rect x="797" y="482" width="3" height="5" fill="#1c6122"/>
<rect x="804" y="467" width="1" height="24" fill="#000"/>
<rect x="802" y="475" width="5" height="7" fill="#000"/>
<rect x="803" y="476" width="3" height="5" fill="#1c6122"/>
<rect x="810" y="450" width="1" height="30" fill="#000"/>
<rect x="808" y="462" width="5" height="18" fill="#000"/>
<rect x="809" y="463" width="3" height="16" fill="#1c6122"/>
<rect x="816" y="450" width="1" height="47" fill="#000"/>
<rect x="814" y="465" width="5" height="17" fill="#000"/>
<rect x="815" y="466" width="3" height="15" fill="#f7483b"/>
<rect x="821" y="463" width="1" height="24" fill="#000"/>
<rect x="819" y="467" width="5" height="15" fill="#000"/>
<rect x="820" y="468" width="3" height="13" fill="#1c6122"/>
<rect x="827" y="448" width="1" height="40" fill="#000"/>
<rect x="825" y="450" width="5" height="20" fill="#000"/>
<rect x="826" y="451" width="3" height="18" fill="#1c6122"/>
<rect x="833" y="448" width="1" height="22" fill="#000"/>
<rect x="831" y="452" width="5" height="16" fill="#000"/>
<rect x="832" y="453" width="3" height="14" fill="#f7483b"/>
<rect x="839" y="439" width="1" height="43" fill="#000"/>
<rect x="837" y="454" width="5" height="14" fill="#000"/>
<rect x="838" y="455" width="3" height="12" fill="#1c6122"/>
<rect x="845" y="404" width="1" height="61" fill="#000"/>
<rect x="843" y="409" width="5" height="46" fill="#000"/>
<rect x="844" y="410" width="3" height="44" fill="#1c6122"/>
<rect x="851" y="390" width="1" height="30" fill="#000"/>
<rect x="849" y="408" width="5" height="7" fill="#000"/>
<rect x="850" y="409" width="3" height="5" fill="#f7483b"/>
<rect x="857" y="412" width="1" height="31" fill="#000"/>
<rect x="855" y="413" width="5" height="23" fill="#000"/>
<rect x="856" y="414" width="3" height="21" fill="#f7483b"/>
<rect x="862" y="405" width="1" height="45" fill="#000"/>
<rect x="860" y="430" width="5" height="8" fill="#000"/>
<rect x="861" y="431" width="3" height="6" fill="#1c6122"/>
<rect x="868" y="411" width="1" height="33" fill="#000"/>
<rect x="866" y="433" width="5" height="2" fill="#000"/>
<rect x="874" y="429" width="1" height="25" fill="#000"/>
<rect x="872" y="436" width="5" height="14" fill="#000"/>
<rect x="873" y="437" width="3" height="12" fill="#f7483b"/>
<rect x="880" y="415" width="1" height="37" fill="#000"/>
<rect x="878" y="436" width="5" height="13" fill="#000"/>
<rect x="879" y="437" width="3" height="11" fill="#1c6122"/>
<rect x="886" y="418" width="1" height="30" fill="#000"/>
<rect x="884" y="436" width="5" height="10" fill="#000"/>
<rect x="885" y="437" width="3" height="8" fill="#f7483b"/>
<rect x="892" y="409" width="1" height="42" fill="#000"/>
<rect x="890" y="410" width="5" height="35" fill="#000"/>
<rect x="891" y="411" width="3" height="33" fill="#1c6122"/>
<rect x="898" y="403" width="1" height="28" fill="#000"/>
<rect x="896" y="413" width="5" height="6" fill="#000"/>
<rect x="897" y="414" width="3" height="4" fill="#f7483b"/>
<rect x="903" y="410" width="1" height="23" fill="#000"/>
<rect x="901" y="418" width="5" height="12" fill="#000"/>
<rect x="902" y="419" width="3" height="10" fill="#f7483b"/>
<rect x="909" y="418" width="1" height="29" fill="#000"/>
<rect x="907" y="429" width="5" height="4" fill="#000"/>
<rect x="908" y="430" width="3" height="2" fill="#f7483b"/>
<rect x="915" y="412" width="1" height="39" fill="#000"/>
<rect x="913" y="434" width="5" height="8" fill="#000"/>
<rect x="914" y="435" width="3" height="6" fill="#f7483b"/>
<rect x="921" y="439" width="1" height="16" fill="#000"/>
<rect x="919" y="440" width="5" height="4" fill="#000"/>
<rect x="920" y="441" width="3" height="2" fill="#f7483b"/>
<rect x="927" y="414" width="1" height="30" fill="#000"/>
<rect x="925" y="419" width="5" height="23" fill="#000"/>
<rect x="926" y="420" width="3" height="21" fill="#1c6122"/>
<rect x="933" y="389" width="1" height="36" fill="#000"/>
<rect x="931" y="393" width="5" height="32" fill="#000"/>
<rect x="932" y="394" width="3" height="30" fill="#1c6122"/>
<rect x="939" y="379" width="1" height="25" fill="#000"/>
<rect x="937" y="384" width="5" height="11" fill="#000"/>
<rect x="938" y="385" width="3" height="9" fill="#1c6122"/>
<rect x="944" y="364" width="1" height="58" fill="#000"/>
<rect x="942" y="384" width="5" height="37" fill="#000"/>
<rect x="943" y="385" width="3" height="35" fill="#f7483b"/>
<rect x="950" y="414" width="1" height="20" fill="#000"/>
<rect x="948" y="418" width="5" height="16" fill="#000"/>
<rect x="949" y="419" width="3" height="14" fill="#f7483b"/>
<rect x="956" y="430" width="1" height="47" fill="#000"/>
<rect x="954" y="432" width="5" height="44" fill="#000"/>
<rect x="955" y="433" width="3" height="42" fill="#f7483b"/>
<rect x="962" y="473" width="1" height="19" fill="#000"/>
<rect x="960" y="477" width="5" height="5" fill="#000"/>
<rect x="961" y="478" width="3" height="3" fill="#f7483b"/>
<rect x="968" y="456" width="1" height="29" fill="#000"/>
<rect x="966" y="459" width="5" height="23" fill="#000"/>
<rect x="967" y="460" width="3" height="21" fill="#1c6122"/>
<rect x="974" y="446" width="1" height="19" fill="#000"/>
<rect x="972" y="456" width="5" height="7" fill="#000"/>
<rect x="973" y="457" width="3" height="5" fill="#1c6122"/>
<rect x="980" y="440" width="1" height="28" fill="#000"/>
<rect x="978" y="453" width="5" height="8" fill="#000"/>
<rect x="979" y="454" width="3" height="6" fill="#f7483b"/>
<rect x="985" y="456" width="1" height="41" fill="#000"/>
<rect x="983" y="463" width="5" height="12" fill="#000"/>
<rect x="984" y="464" width="3" height="10" fill="#f7483b"/>
<rect x="991" y="454" width="1" height="30" fill="#000"/>
<rect x="989" y="458" width="5" height="18" fill="#000"/>
<rect x="990" y="459" width="3" height="16" fill="#1c6122"/>
<rect x="997" y="405" width="1" height="55" fill="#000"/>
<rect x="995" y="412" width="5" height="47" fill="#000"/>
<rect x="996" y="413" width="3" height="45" fill="#1c6122"/>
<rect x="1003" y="392" width="1" height="23" fill="#000"/>
<rect x="1001" y="402" width="5" height="12" fill="#000"/>
<rect x="1002" y="403" width="3" height="10" fill="#1c6122"/>
<rect x="1009" y="377" width="1" height="26" fill="#000"/>
<rect x="1007" y="379" width="5" height="24" fill="#000"/>
<rect x="1008" y="380" width="3" height="22" fill="#1c6122"/>
<rect x="1015" y="361" width="1" height="21" fill="#000"/>
<rect x="1013" y="365" width="5" height="17" fill="#000"/>
<rect x="1014" y="366" width="3" height="15" fill="#1c6122"/>
<rect x="1021" y="361" width="1" height="36" fill="#000"/>
<rect x="1019" y="372" width="5" height="4" fill="#000"/>
<rect x="1020" y="373" width="3" height="2" fill="#f7483b"/>
<rect x="1026" y="325" width="1" height="51" fill="#000"/>
<rect x="1024" y="330" width="5" height="46" fill="#000"/>
<rect x="1025" y="331" width="3" height="44" fill="#1c6122"/>
<rect x="1032" y="325" width="1" height="43" fill="#000"/>
<rect x="1030" y="330" width="5" height="29" fill="#000"/>
<rect x="1031" y="331" width="3" height="27" fill="#f7483b"/>
<rect x="1038" y="306" width="1" height="63" fill="#000"/>
<rect x="1036" y="351" width="5" height="14" fill="#000"/>
<rect x="1037" y="352" width="3" height="12" fill="#1c6122"/>
<rect x="1044" y="310" width="1" height="45" fill="#000"/>
<rect x="1042" y="313" width="5" height="42" fill="#000"/>
<rect x="1043" y="314" width="3" height="40" fill="#1c6122"/>
<rect x="1050" y="290" width="1" height="38" fill="#000"/>
<rect x="1048" y="294" width="5" height="21" fill="#000"/>
<rect x="1049" y="295" width="3" height="19" fill="#1c6122"/>
<rect x="1056" y="234" width="1" height="63" fill="#000"/>
<rect x="1054" y="258" width="5" height="37" fill="#000"/>
<rect x="1055" y="259" width="3" height="35" fill="#1c6122"/>
<rect x="1062" y="238" width="1" height="26" fill="#000"/>
<rect x="1060" y="248" width="5" height="14" fill="#000"/>
<rect x="1061" y="249" width="3" height="12" fill="#1c6122"/>
<rect x="1067" y="235" width="1" height="31" fill="#000"/>
<rect x="1065" y="240" width="5" height="8" fill="#000"/>
<rect x="1066" y="241" width="3" height="6" fill="#1c6122"/>
<rect x="1073" y="238" width="1" height="43" fill="#000"/>
<rect x="1071" y="240" width="5" height="8" fill="#000"/>
<rect x="1072" y="241" width="3" height="6" fill="#f7483b"/>
<rect x="1079" y="229" width="1" height="46" fill="#000"/>
<rect x="1077" y="231" width="5" height="17" fill="#000"/>
<rect x="1078" y="232" width="3" height="15" fill="#1c6122"/>
<rect x="1085" y="221" width="1" height="65" fill="#000"/>
<rect x="1083" y="235" width="5" height="32" fill="#000"/>
<rect x="1084" y="236" width="3" height="30" fill="#f7483b"/>
<rect x="1091" y="202" width="1" height="65" fill="#000"/>
<rect x="1089" y="220" width="5" height="42" fill="#000"/>
<rect x="1090" y="221" width="3" height="40" fill="#1c6122"/>
<rect x="1097" y="152" width="1" height="131" fill="#000"/>
<rect x="1095" y="166" width="5" height="114" fill="#000"/>
<rect x="1096" y="167" width="3" height="112" fill="#f7483b"/>
<rect x="1103" y="256" width="1" height="58" fill="#000"/>
<rect x="1101" y="262" width="5" height="45" fill="#000"/>
<rect x="1102" y="263" width="3" height="43" fill="#f7483b"/>
<rect x="1108" y="289" width="1" height="22" fill="#000"/>
<rect x="1106" y="297" width="5" height="11" fill="#000"/>
<rect x="1107" y="298" width="3" height="9" fill="#1c6122"/>
<rect x="1114" y="233" width="1" height="72" fill="#000"/>
<rect x="1112" y="236" width="5" height="62" fill="#000"/>
<rect x="1113" y="237" width="3" height="60" fill="#1c6122"/>
<rect x="1120" y="215" width="1" height="76" fill="#000"/>
<rect x="1118" y="241" width="5" height="20" fill="#000"/>
<rect x="1119" y="242" width="3" height="18" fill="#f7483b"/>
<rect x="1126" y="220" width="1" height="43" fill="#000"/>
<rect x="1124" y="258" width="5" height="1" fill="#000"/>
<rect x="1132" y="250" width="1" height="36" fill="#000"/>
<rect x="1130" y="255" width="5" height="9" fill="#000"/>
<rect x="1131" y="256" width="3" height="7" fill="#f7483b"/>
<rect x="1138" y="262" width="1" height="30" fill="#000"/>
<rect x="1136" y="264" width="5" height="10" fill="#000"/>
<rect x="1137" y="265" width="3" height="8" fill="#f7483b"/>
<rect x="1144" y="247" width="1" height="98" fill="#000"/>
<rect x="1142" y="274" width="5" height="21" fill="#000"/>
<rect x="1143" y="275" width="3" height="19" fill="#f7483b"/>
<rect x="1149" y="277" width="1" height="115" fill="#000"/>
<rect x="1147" y="285" width="5" height="101" fill="#000"/>
<rect x="1148" y="286" width="3" height="99" fill="#f7483b"/>
<rect x="1155" y="357" width="1" height="38" fill="#000"/>
<rect x="1153" y="387" width="5" height="5" fill="#000"/>
<rect x="1154" y="388" width="3" height="3" fill="#f7483b"/>
<rect x="1161" y="375" width="1" height="31" fill="#000"/>
<rect x="1159" y="389" width="5" height="6" fill="#000"/>
<rect x="1160" y="390" width="3" height="4" fill="#1c6122"/>
<rect x="1167" y="378" width="1" height="33" fill="#000"/>
<rect x="1165" y="386" width="5" height="13" fill="#000"/>
<rect x="1166" y="387" width="3" height="11" fill="#f7483b"/>
<rect x="1173" y="365" width="1" height="49" fill="#000"/>
<rect x="1171" y="369" width="5" height="34" fill="#000"/>
<rect x="1172" y="370" width="3" height="32" fill="#1c6122"/>
<rect x="1179" y="347" width="1" height="33" fill="#000"/>
<rect x="1177" y="360" width="5" height="20" fill="#000"/>
<rect x="1178" y="361" width="3" height="18" fill="#1c6122"/>
<rect x="1185" y="358" width="1" height="66" fill="#000"/>
<rect x="1183" y="359" width="5" height="61" fill="#000"/>
<rect x="1184" y="360" width="3" height="59" fill="#f7483b"/>
<rect x="1190" y="386" width="1" height="44" fill="#000"/>
<rect x="1188" y="418" width="5" height="6" fill="#000"/>
<rect x="1189" y="419" width="3" height="4" fill="#1c6122"/>
<rect x="1196" y="416" width="1" height="27" fill="#000"/>
<rect x="1194" y="417" width="5" height="13" fill="#000"/>
<rect x="1195" y="418" width="3" height="11" fill="#f7483b"/>
<rect x="1202" y="419" width="1" height="41" fill="#000"/>
<rect x="1200" y="429" width="5" height="29" fill="#000"/>
<rect x="1201" y="430" width="3" height="27" fill="#f7483b"/>
<rect x="1208" y="415" width="1" height="52" fill="#000"/>
<rect x="1206" y="418" width="5" height="40" fill="#000"/>
<rect x="1207" y="419" width="3" height="38" fill="#1c6122"/>
<rect x="1214" y="402" width="1" height="45" fill="#000"/>
<rect x="1212" y="413" width="5" height="20" fill="#000"/>
<rect x="1213" y="414" width="3" height="18" fill="#f7483b"/>
<rect x="1220" y="426" width="1" height="36" fill="#000"/>
<rect x="1218" y="429" width="5" height="24" fill="#000"/>
<rect x="1219" y="430" width="3" height="22" fill="#f7483b"/>
<rect x="1226" y="418" width="1" height="38" fill="#000"/>
<rect x="1224" y="430" width="5" height="26" fill="#000"/>
<rect x="1225" y="431" width="3" height="24" fill="#1c6122"/>
<rect x="1231" y="408" width="1" height="26" fill="#000"/>
<rect x="1229" y="422" width="5" height="6" fill="#000"/>
<rect x="1230" y="423" width="3" height="4" fill="#1c6122"/>
<rect x="1237" y="418" width="1" height="40" fill="#000"/>
<rect x="1235" y="424" width="5" height="4" fill="#000"/>
<rect x="1236" y="425" width="3" height="2" fill="#f7483b"/>
<rect x="1243" y="381" width="1" height="48" fill="#000"/>
<rect x="1241" y="404" width="5" height="23" fill="#000"/>
<rect x="1242" y="405" width="3" height="21" fill="#1c6122"/>
<rect x="1249" y="399" width="1" height="22" fill="#000"/>
<rect x="1247" y="408" width="5" height="6" fill="#000"/>
<rect x="1248" y="409" width="3" height="4" fill="#f7483b"/>
<rect x="1255" y="396" width="1" height="20" fill="#000"/>
<rect x="1253" y="398" width="5" height="18" fill="#000"/>
<rect x="1254" y="399" width="3" height="16" fill="#1c6122"/>
<rect x="1261" y="370" width="1" height="35" fill="#000"/>
<rect x="1259" y="396" width="5" height="4" fill="#000"/>
<rect x="1260" y="397" width="3" height="2" fill="#1c6122"/>
<rect x="1267" y="384" width="1" height="36" fill="#000"/>
<rect x="1265" y="396" width="5" height="22" fill="#000"/>
<rect x="1266" y="397" width="3" height="20" fill="#f7483b"/>
<rect x="1272" y="388" width="1" height="31" fill="#000"/>
<rect x="1270" y="395" width="5" height="23" fill="#000"/>
<rect x="1271" y="396" width="3" height="21" fill="#1c6122"/>
<rect x="1278" y="378" width="1" height="26" fill="#000"/>
<rect x="1276" y="390" width="5" height="5" fill="#000"/>
<rect x="1277" y="391" width="3" height="3" fill="#1c6122"/>
<rect x="1284" y="390" width="1" height="30" fill="#000"/>
<rect x="1282" y="390" width="5" height="19" fill="#000"/>
<rect x="1283" y="391" width="3" height="17" fill="#f7483b"/>
<rect x="1290" y="361" width="1" height="48" fill="#000"/>
<rect x="1288" y="367" width="5" height="42" fill="#000"/>
<rect x="1289" y="368" width="3" height="40" fill="#1c6122"/>
<rect x="1296" y="354" width="1" height="23" fill="#000"/>
<rect x="1294" y="365" width="5" height="3" fill="#000"/>
<rect x="1295" y="366" width="3" height="1" fill="#1c6122"/>
<rect x="1302" y="342" width="1" height="26" fill="#000"/>
<rect x="1300" y="352" width="5" height="11" fill="#000"/>
<rect x="1301" y="353" width="3" height="9" fill="#1c6122"/>
<rect x="1308" y="331" width="1" height="25" fill="#000"/>
<rect x="1306" y="347" width="5" height="9" fill="#000"/>
<rect x="1307" y="348" width="3" height="7" fill="#1c6122"/>
<rect x="1313" y="334" width="1" height="24" fill="#000"/>
<rect x="1311" y="348" width="5" height="6" fill="#000"/>
<rect x="1312" y="349" width="3" height="4" fill="#f7483b"/>
<rect x="1319" y="342" width="1" height="37" fill="#000"/>
<rect x="1317" y="349" width="5" height="3" fill="#000"/>
<rect x="1318" y="350" width="3" height="1" fill="#f7483b"/>
<rect x="1325" y="316" width="1" height="38" fill="#000"/>
<rect x="1323" y="340" width="5" height="14" fill="#000"/>
<rect x="1324" y="341" width="3" height="12" fill="#1c6122"/>
<rect x="1331" y="339" width="1" height="16" fill="#000"/>
<rect x="1329" y="340" width="5" height="7" fill="#000"/>
<rect x="1330" y="341" width="3" height="5" fill="#f7483b"/>
<rect x="1337" y="318" width="1" height="40" fill="#000"/>
<rect x="1335" y="327" width="5" height="20" fill="#000"/>
<rect x="1336" y="328" width="3" height="18" fill="#1c6122"/>
<rect x="1343" y="320" width="1" height="46" fill="#000"/>
<rect x="1341" y="326" width="5" height="33" fill="#000"/>
<rect x="1342" y="327" width="3" height="31" fill="#f7483b"/>
<rect x="1349" y="347" width="1" height="52" fill="#000"/>
<rect x="1347" y="358" width="5" height="41" fill="#000"/>
<rect x="1348" y="359" width="3" height="39" fill="#f7483b"/>
<rect x="1354" y="383" width="1" height="30" fill="#000"/>
<rect x="1352" y="391" width="5" height="19" fill="#000"/>
<rect x="1353" y="392" width="3" height="17" fill="#f7483b"/>
<rect x="1360" y="400" width="1" height="19" fill="#000"/>
<rect x="1358" y="402" width="5" height="8" fill="#000"/>
<rect x="1359" y="403" width="3" height="6" fill="#1c6122"/>
<rect x="1366" y="400" width="1" height="41" fill="#000"/>
<rect x="1364" y="402" width="5" height="33" fill="#000"/>
<rect x="1365" y="403" width="3" height="31" fill="#f7483b"/>
<rect x="1372" y="414" width="1" height="23" fill="#000"/>
<rect x="1370" y="419" width="5" height="16" fill="#000"/>
<rect x="1371" y="420" width="3" height="14" fill="#1c6122"/>
<rect x="1378" y="371" width="1" height="47" fill="#000"/>
<rect x="1376" y="374" width="5" height="42" fill="#000"/>
<rect x="1377" y="375" width="3" height="40" fill="#1c6122"/>
<rect x="1384" y="369" width="1" height="18" fill="#000"/>
<rect x="1382" y="373" width="5" height="1" fill="#000"/>
<rect x="1390" y="371" width="1" height="57" fill="#000"/>
<rect x="1388" y="374" width="5" height="54" fill="#000"/>
<rect x="1389" y="375" width="3" height="52" fill="#f7483b"/>
<rect x="1395" y="416" width="1" height="65" fill="#000"/>
<rect x="1393" y="427" width="5" height="21" fill="#000"/>
<rect x="1394" y="428" width="3" height="19" fill="#f7483b"/>
<rect x="1401" y="420" width="1" height="31" fill="#000"/>
<rect x="1399" y="434" width="5" height="14" fill="#000"/>
<rect x="1400" y="435" width="3" height="12" fill="#1c6122"/>
<rect x="1407" y="433" width="1" height="42" fill="#000"/>
<rect x="1405" y="434" width="5" height="15" fill="#000"/>
<rect x="1406" y="435" width="3" height="13" fill="#f7483b"/>
<rect x="1413" y="423" width="1" height="28" fill="#000"/>
<rect x="1411" y="433" width="5" height="16" fill="#000"/>
<rect x="1412" y="434" width="3" height="14" fill="#1c6122"/>
<rect x="1419" y="420" width="1" height="25" fill="#000"/>
<rect x="1417" y="434" width="5" height="9" fill="#000"/>
<rect x="1418" y="435" width="3" height="7" fill="#f7483b"/>
<rect x="1425" y="413" width="1" height="35" fill="#000"/>
<rect x="1423" y="435" width="5" height="5" fill="#000"/>
<rect x="1424" y="436" width="3" height="3" fill="#1c6122"/>
</g>
<text x="1759.1" y="806.9" font-size="15.2" fill="#131722" textLength="54.9" lengthAdjust="spacingAndGlyphs">1,22000</text>
<text x="1759.1" y="756.7" font-size="15.2" fill="#131722" textLength="54.9" lengthAdjust="spacingAndGlyphs">1,24000</text>
<text x="1759.1" y="706.5" font-size="15.2" fill="#131722" textLength="54.9" lengthAdjust="spacingAndGlyphs">1,26000</text>
<text x="1759.1" y="656.3" font-size="15.2" fill="#131722" textLength="54.9" lengthAdjust="spacingAndGlyphs">1,28000</text>
<text x="1759.1" y="606.1" font-size="15.2" fill="#131722" textLength="54.9" lengthAdjust="spacingAndGlyphs">1,30000</text>
<text x="1759.1" y="555.9" font-size="15.2" fill="#131722" textLength="54.9" lengthAdjust="spacingAndGlyphs">1,32000</text>
<text x="1759.1" y="505.7" font-size="15.2" fill="#131722" textLength="54.9" lengthAdjust="spacingAndGlyphs">1,34000</text>
<text x="1759.1" y="455.5" font-size="15.2" fill="#131722" textLength="54.9" lengthAdjust="spacingAndGlyphs">1,36000</text>
<text x="1759.1" y="405.3" font-size="15.2" fill="#131722" textLength="54.9" lengthAdjust="spacingAndGlyphs">1,38000</text>
<text x="1759.1" y="355.1" font-size="15.2" fill="#131722" textLength="54.9" lengthAdjust="spacingAndGlyphs">1,40000</text>
<text x="1759.1" y="304.9" font-size="15.2" fill="#131722" textLength="54.9" lengthAdjust="spacingAndGlyphs">1,42000</text>
<text x="1759.1" y="254.7" font-size="15.2" fill="#131722" textLength="54.9" lengthAdjust="spacingAndGlyphs">1,44000</text>
<text x="1759.1" y="204.5" font-size="15.2" fill="#131722" textLength="54.9" lengthAdjust="spacingAndGlyphs">1,46000</text>
<text x="1759.1" y="154.3" font-size="15.2" fill="#131722" textLength="54.9" lengthAdjust="spacingAndGlyphs">1,48000</text>
<text x="1759.1" y="104.1" font-size="15.2" fill="#131722" textLength="54.9" lengthAdjust="spacingAndGlyphs">1,50000</text>
<path d="M1748,140.9H1818.8a2,2 0 0 1 2,2V161.7a2,2 0 0 1 -2,2H1748Z" fill="#673ab7"/>
<text x="1758.8" y="156.8" font-size="15.6" font-weight="bold" fill="#fff" textLength="54.6" lengthAdjust="spacingAndGlyphs">1,47926</text>
<path d="M1748,172.3H1818.8a2,2 0 0 1 2,2V193.1a2,2 0 0 1 -2,2H1748Z" fill="#673ab7"/>
<text x="1758.8" y="188.2" font-size="15.6" font-weight="bold" fill="#fff" textLength="54.6" lengthAdjust="spacingAndGlyphs">1,46674</text>
<path d="M1748,302.1H1818.8a2,2 0 0 1 2,2V322.9a2,2 0 0 1 -2,2H1748Z" fill="#673ab7"/>
<text x="1758.8" y="318.0" font-size="15.6" font-weight="bold" fill="#fff" textLength="54.6" lengthAdjust="spacingAndGlyphs">1,41501</text>
<path d="M1748,346.1H1818.8a2,2 0 0 1 2,2V366.9a2,2 0 0 1 -2,2H1748Z" fill="#673ab7"/>
<text x="1758.8" y="362.0" font-size="15.6" font-weight="bold" fill="#fff" textLength="54.6" lengthAdjust="spacingAndGlyphs">1,39775</text>
<path d="M1748,567.6H1818.8a2,2 0 0 1 2,2V588.4a2,2 0 0 1 -2,2H1748Z" fill="#673ab7"/>
<text x="1758.8" y="583.5" font-size="15.6" font-weight="bold" fill="#fff" textLength="54.6" lengthAdjust="spacingAndGlyphs">1,30922</text>
<path d="M1748,840.1H1818.8a2,2 0 0 1 2,2V860.9a2,2 0 0 1 -2,2H1748Z" fill="#673ab7"/>
<text x="1758.8" y="856.0" font-size="15.6" font-weight="bold" fill="#fff" textLength="54.6" lengthAdjust="spacingAndGlyphs">1,20068</text>
<path d="M1748,423.9H1818.8a2,2 0 0 1 2,2V444.7a2,2 0 0 1 -2,2H1748Z" fill="#1b5e20"/>
<text x="1758.8" y="439.8" font-size="15.6" font-weight="bold" fill="#fff" textLength="54.6" lengthAdjust="spacingAndGlyphs">1,36651</text>
<rect x="1751.8" y="30.9" width="68.6" height="25.7" rx="4" fill="#fff" stroke="#e3e5ec" stroke-width="1"/>
<text x="1760" y="48.7" font-size="11.6" fill="#131722" textLength="22.6" lengthAdjust="spacingAndGlyphs">CAD</text>
<text x="154.2" y="887" font-size="15.8" font-weight="bold" fill="#131722" text-anchor="middle" textLength="36.6" lengthAdjust="spacingAndGlyphs">2022</text>
<text x="306.2" y="887" font-size="15.8" fill="#131722" text-anchor="middle" textLength="22.6" lengthAdjust="spacingAndGlyphs">Jul</text>
<text x="458.2" y="887" font-size="15.8" font-weight="bold" fill="#131722" text-anchor="middle" textLength="36.6" lengthAdjust="spacingAndGlyphs">2023</text>
<text x="611.2" y="887" font-size="15.8" fill="#131722" text-anchor="middle" textLength="22.6" lengthAdjust="spacingAndGlyphs">Jul</text>
<text x="763.2" y="887" font-size="15.8" font-weight="bold" fill="#131722" text-anchor="middle" textLength="36.6" lengthAdjust="spacingAndGlyphs">2024</text>
<text x="915.2" y="887" font-size="15.8" fill="#131722" text-anchor="middle" textLength="22.6" lengthAdjust="spacingAndGlyphs">Jul</text>
<text x="1073.2" y="887" font-size="15.8" font-weight="bold" fill="#131722" text-anchor="middle" textLength="36.6" lengthAdjust="spacingAndGlyphs">2025</text>
<text x="1226.2" y="887" font-size="15.8" fill="#131722" text-anchor="middle" textLength="22.6" lengthAdjust="spacingAndGlyphs">Jul</text>
<text x="1378.2" y="887" font-size="15.8" font-weight="bold" fill="#131722" text-anchor="middle" textLength="36.6" lengthAdjust="spacingAndGlyphs">2026</text>
<text x="1530.2" y="887" font-size="15.8" fill="#131722" text-anchor="middle" textLength="22.6" lengthAdjust="spacingAndGlyphs">Jul</text>
<text x="1683.2" y="887" font-size="15.8" font-weight="bold" fill="#131722" text-anchor="middle" textLength="36.6" lengthAdjust="spacingAndGlyphs">2027</text>
<text x="18.3" y="45.8" font-size="11.5" fill="#131722" textLength="288" lengthAdjust="spacingAndGlyphs">USDCAD · US-Dollar / Kanadischer Dollar · 1W · FXCM</text>
<text x="18.3" y="62.7" font-size="11.5" fill="#131722" textLength="81" lengthAdjust="spacingAndGlyphs">SMA (20, close)</text>
<text x="107.9" y="62.7" font-size="11.5" fill="#2962ff" textLength="41" lengthAdjust="spacingAndGlyphs">1,38148</text>
<text x="18.3" y="79.6" font-size="11.5" fill="#131722" textLength="81" lengthAdjust="spacingAndGlyphs">SMA (50, close)</text>
<text x="107.9" y="79.6" font-size="11.5" fill="#2e7d32" textLength="41" lengthAdjust="spacingAndGlyphs">1,38233</text>
<text x="10.3" y="18.8" font-size="12" fill="#dedede" stroke="#dedede" stroke-width="0.45" textLength="381.5" lengthAdjust="spacingAndGlyphs">KarstenKagels erstellt mit TradingView.com, Mrz 06, 2026 11:27 UTC+1</text>
<g fill="#e0e0e0" transform="translate(12,917.5) scale(0.838)"><path d="M14 22H7V11H0V4h14v18zM28 22h-8l7.5-18h8L28 22z"/><circle cx="20" cy="8" r="4"/></g>
<text x="48.6" y="936" font-size="21" font-weight="bold" fill="#e0e0e0" textLength="121.5" lengthAdjust="spacingAndGlyphs">TradingView</text>
<polygon points="1578.18,809.86 1580.46,804.63 1584.06,800.05 1586.35,796.78 1589.62,794.81 1595.51,791.54 1600.74,787.62 1603.36,784.35 1602.05,781.08 1601.39,780.10 1598.45,778.79 1599.10,776.18 1600.41,778.46 1604.01,779.12 1606.63,778.46 1610.55,778.79 1611.20,779.12 1613.17,777.81 1612.51,774.54 1614.15,776.50 1613.82,778.79 1611.86,780.43 1611.86,783.04 1613.17,787.62 1614.47,792.85 1617.09,798.09 1619.71,801.36 1622.98,803.32 1621.67,803.84 1617.74,801.36 1615.13,798.74 1612.51,797.43 1612.51,798.09 1608.59,800.05 1609.24,800.70 1611.86,803.32 1615.13,805.61 1614.47,806.91 1612.51,806.59 1609.90,803.97 1606.63,801.68 1605.32,801.03 1600.74,802.66 1598.78,803.64 1600.74,804.30 1598.12,805.61 1599.43,807.90 1601.72,809.53 1600.09,810.18 1597.47,808.88 1594.53,806.59 1596.16,804.63 1594.85,803.64 1589.62,802.34 1585.04,802.66 1583.08,805.28 1580.46,809.86" fill="#0f52cc"/>
<polyline points="1589.62,794.49 1586.68,791.87 1586.35,790.56 1589.62,789.91 1591.91,787.95 1589.62,786.31 1587.66,783.37" fill="none" stroke="#0f52cc" stroke-width="1.5" stroke-linejoin="round"/>
<polygon points="1638.35,781.41 1641.29,780.10 1643.25,778.46 1645.21,775.85 1647.17,777.16 1649.46,777.16 1650.12,779.45 1655.02,782.06 1660.91,785.33 1668.10,786.31 1670.72,788.27 1673.34,792.20 1675.62,796.12 1677.26,800.70 1679.55,803.64 1679.88,806.59 1678.57,808.55 1673.99,808.88 1673.34,807.24 1672.03,805.93 1669.41,805.61 1666.80,802.66 1666.14,804.63 1666.47,806.59 1664.18,808.55 1659.60,808.88 1658.29,807.24 1655.68,804.63 1653.71,802.66 1653.06,804.63 1650.12,806.26 1648.16,804.95 1648.48,802.34 1651.10,800.05 1651.75,798.74 1649.14,797.43 1645.87,799.39 1641.94,799.07 1640.31,800.05 1638.02,800.70 1634.42,799.39 1634.09,798.09 1636.06,797.43 1639.98,797.43 1641.94,796.12 1644.56,792.85 1645.87,790.24 1643.90,787.62 1641.94,784.68 1639.33,784.35" fill="#0f52cc"/>
<g stroke="#fff" stroke-opacity="0.5" stroke-width="0.45" fill="none">
<line x1="1603.36" y1="784.68" x2="1615.78" y2="798.74"/>
<line x1="1595.18" y1="792.20" x2="1595.83" y2="803.64"/>
<line x1="1609.24" y1="781.08" x2="1607.93" y2="787.62"/>
<line x1="1610.22" y1="780.43" x2="1614.47" y2="794.16"/>
<line x1="1607.93" y1="787.62" x2="1615.13" y2="798.74"/>
<line x1="1649.46" y1="779.45" x2="1645.87" y2="790.89"/>
<line x1="1645.87" y1="790.89" x2="1649.46" y2="796.78"/>
<line x1="1660.91" y1="785.66" x2="1649.46" y2="796.78"/>
<line x1="1660.91" y1="785.66" x2="1666.14" y2="802.01"/>
<line x1="1666.14" y1="802.01" x2="1659.60" y2="806.59"/>
<line x1="1675.30" y1="800.70" x2="1672.03" y2="805.93"/>
<line x1="1652.41" y1="799.39" x2="1654.37" y2="803.32"/>
</g>
<text x="1533.2" y="836.3" font-size="25.5" font-weight="bold" fill="#111" textLength="88.3" lengthAdjust="spacingAndGlyphs">KAGELS</text>
<text x="1627.2" y="836.3" font-size="25.5" fill="#111" stroke="#fff" stroke-width="0.45" textLength="98.5" lengthAdjust="spacingAndGlyphs">TRADING</text>
</svg>
</body></html>
